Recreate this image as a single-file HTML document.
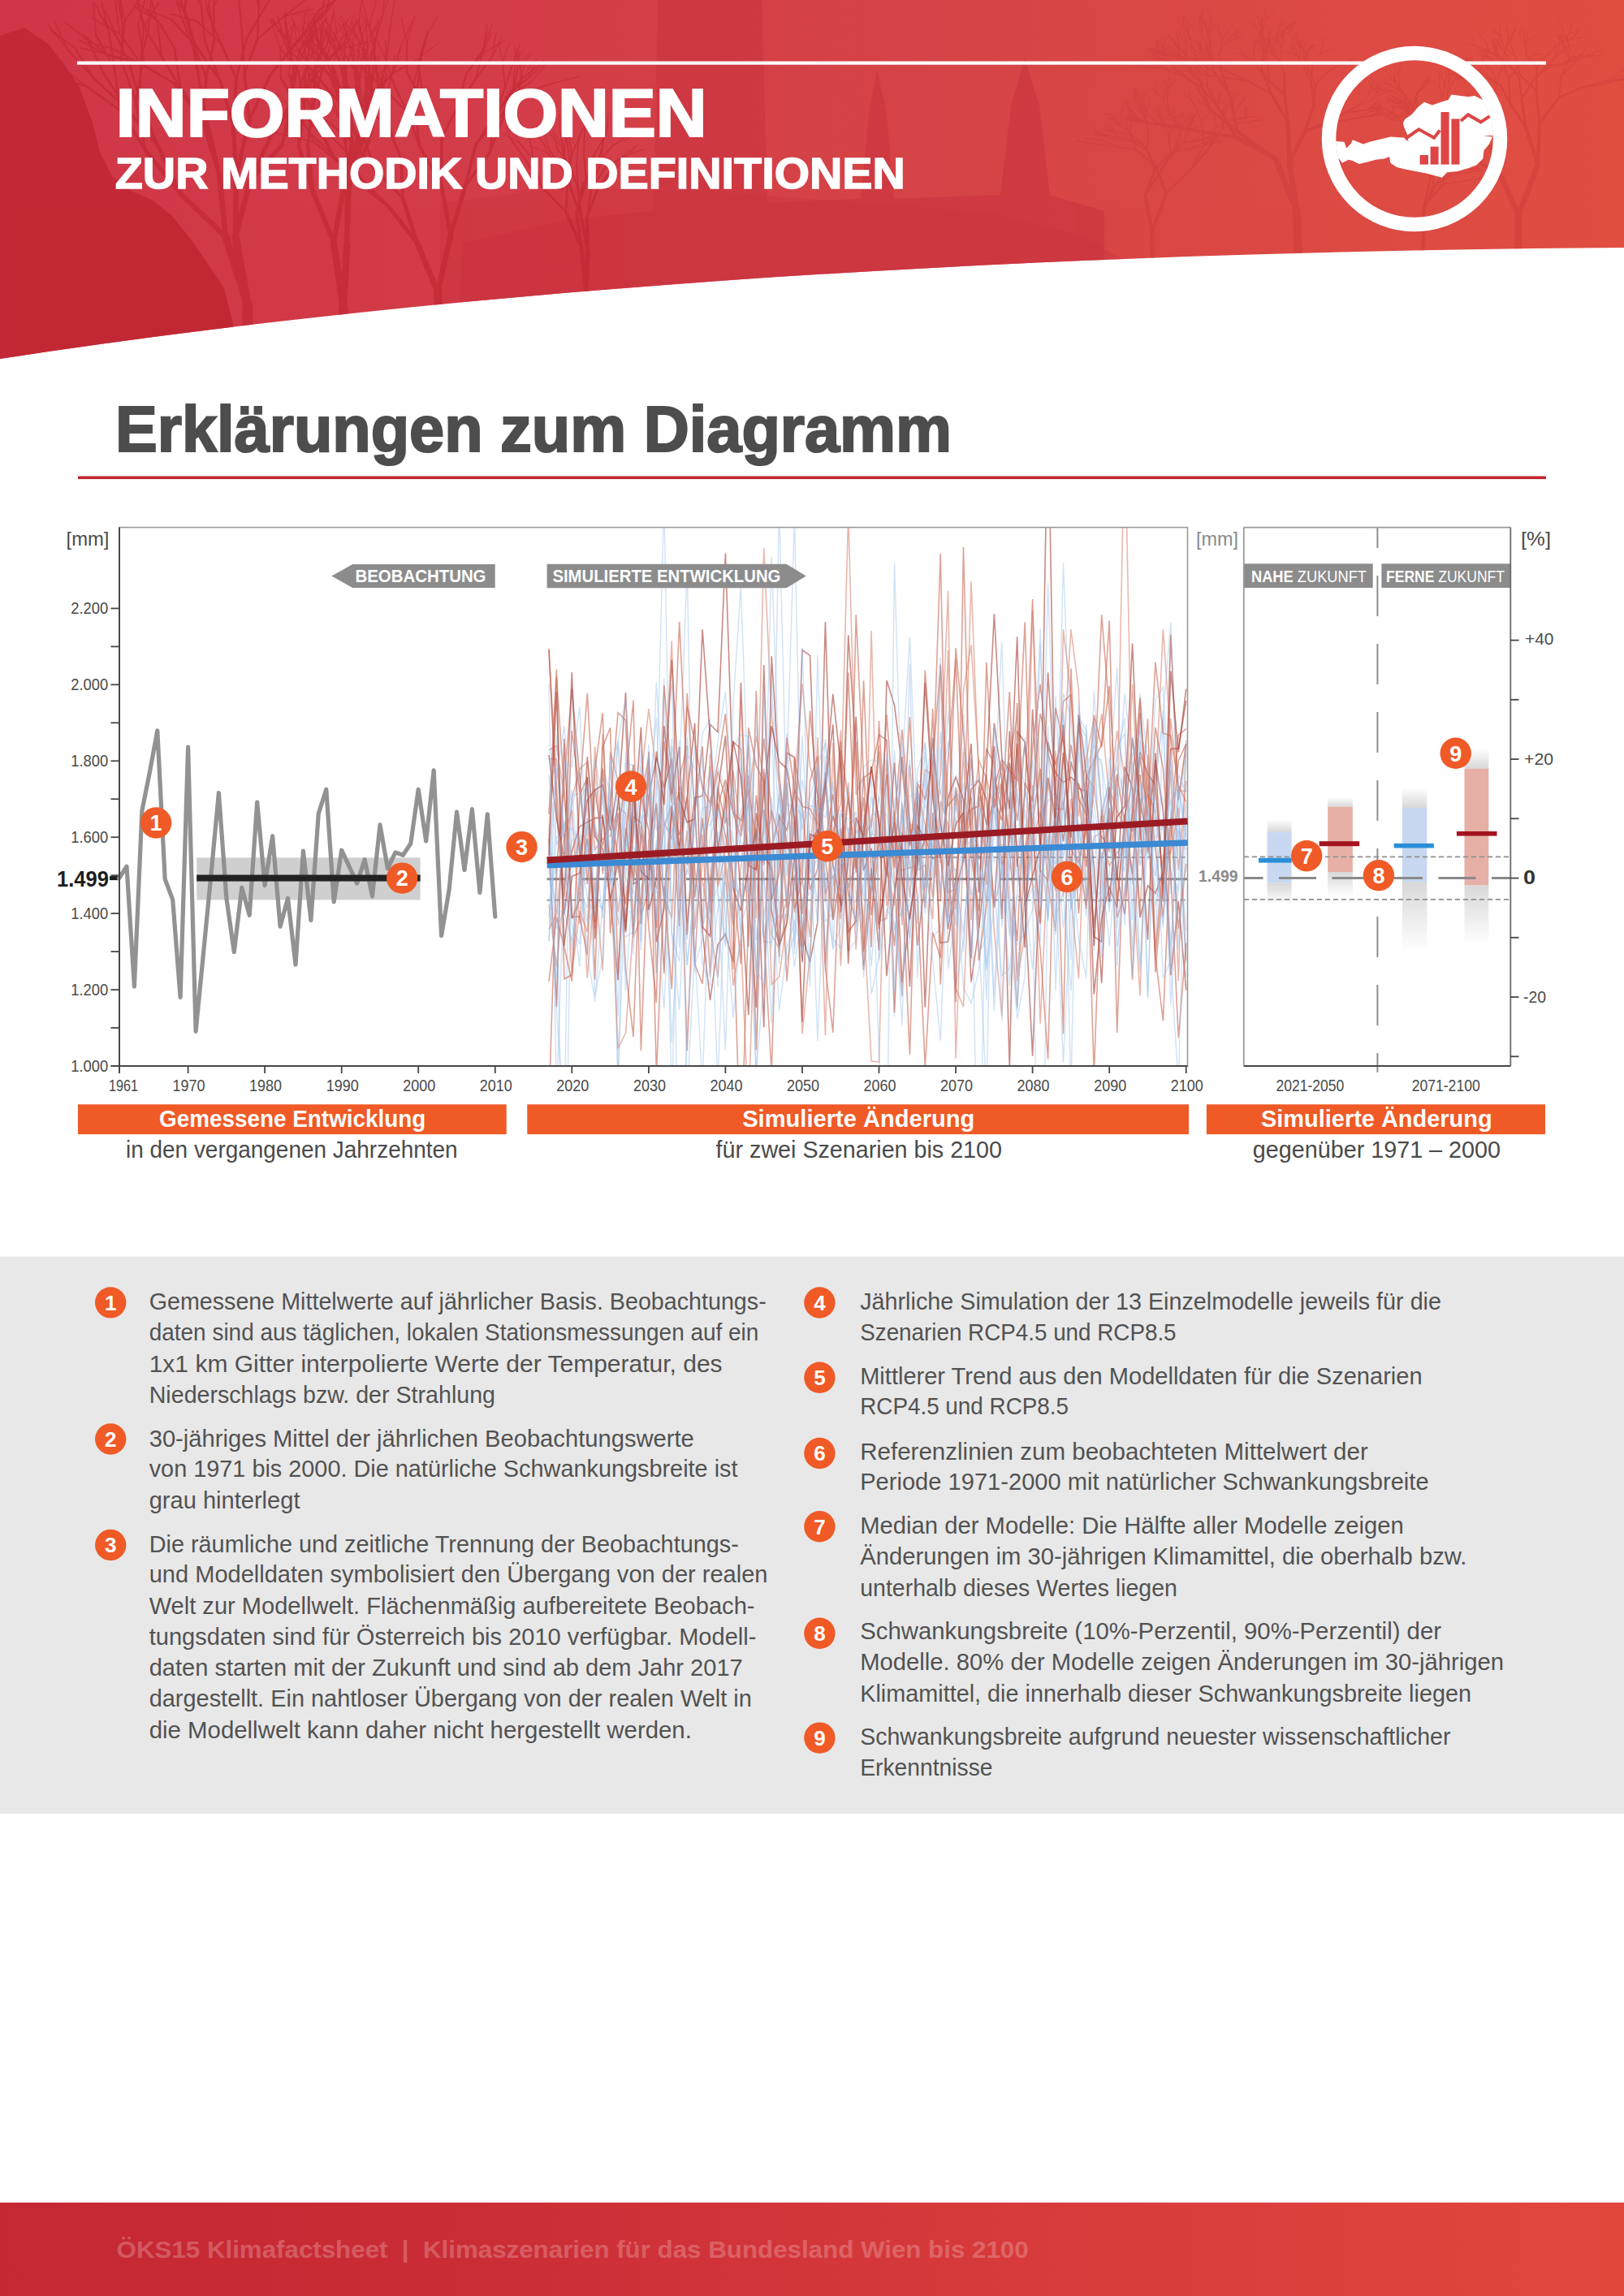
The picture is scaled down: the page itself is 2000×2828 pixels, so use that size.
<!DOCTYPE html>
<html><head><meta charset="utf-8"><title>Erklärungen zum Diagramm</title>
<style>html,body{margin:0;padding:0;background:#fff;width:2000px;height:2828px;overflow:hidden;}svg{display:block;}
text{font-family:"Liberation Sans", sans-serif;}</style></head>
<body>
<svg width="2000" height="2828" viewBox="0 0 2000 2828">
<defs>
<linearGradient id="hdrg" x1="0" y1="0" x2="1" y2="0">
<stop offset="0" stop-color="#cf3747"/>
<stop offset="0.3" stop-color="#d33c49"/>
<stop offset="0.58" stop-color="#d54446"/>
<stop offset="0.8" stop-color="#dc4a44"/>
<stop offset="1" stop-color="#e04e42"/>
</linearGradient>
<linearGradient id="ftrg" x1="0" y1="0" x2="1" y2="0">
<stop offset="0" stop-color="#c52733"/>
<stop offset="0.3" stop-color="#cb2d36"/>
<stop offset="0.55" stop-color="#d5383a"/>
<stop offset="1" stop-color="#e2463d"/>
</linearGradient>
<clipPath id="hdrclip"><path d="M0,0 H2000 V305 C1300,310 600,350 0,442 Z"/></clipPath>
<clipPath id="logoclip"><circle cx="1742" cy="171" r="97"/></clipPath>
</defs>
<g clip-path="url(#hdrclip)">
<rect x="0" y="0" width="2000" height="460" fill="url(#hdrg)"/>
<path d="M0,44 L30,34 L59,54 L79,79 L98,108 L113,148 L123,187 L138,217 L163,236 L187,246 L212,266 L236,296 L256,325 L276,355 L286,394 L300,460 L0,460 Z" fill="#c02633" opacity="0.85"/>
<path d="M810,0 L938,0 L945,250 L1060,245 L1070,140 L1080,86 L1092,140 L1101,245 L1232,240 L1245,130 L1262,72 L1280,130 L1293,240 L1360,260 L1360,460 L560,460 L570,300 L700,270 L805,260 Z" fill="#c93440" opacity="0.6"/>
<path d="M542,250 L700,230 L930,240 L1220,262 L1330,290 L1420,340 L1420,460 L542,460 Z" fill="#c83440" opacity="0.35"/>
<g stroke="#c12935" fill="none" opacity="0.7" stroke-linecap="round"><path d="M360,56L350,27M345,61L359,32M386,60L383,32M344,57L334,27M372,47L377,16M372,47L376,15M381,43L379,7M392,48L382,15M392,48L386,16M423,53L436,19M423,53L443,22M410,47L431,22M410,47L431,22M384,77L359,59M384,77L364,57M434,55L449,27M434,55L438,24M390,66L382,38M390,66L367,44M382,68L373,36M411,60L400,34M411,60L415,33M425,58L426,30M425,58L438,31M443,55L452,27M443,55L433,25M452,60L463,34M413,60L392,39M413,56L400,24M413,56L396,28M442,49L419,19M442,49L416,21M452,51L451,19M421,47L443,24M391,51L367,30M391,51L387,21M366,60L363,30M360,66L344,39M403,45L392,13M403,45L385,16M414,46L411,11M414,46L397,17M430,54L416,27M418,55L396,31M418,55L401,25M449,54L467,26M449,54L438,23M462,58L465,26M431,56L422,28M435,57L423,31M494,56L508,26M516,72L543,50M461,46L446,17M388,45L370,18M374,53L359,21M374,53L341,38M393,51L382,25M393,51L375,26M389,55L365,33M481,30L487,-6M455,32L463,1M455,32L445,-2M471,19L476,-21M471,19L485,-21M442,28L446,-5M683,102L714,94M660,83L686,75M654,93L674,78M654,93L670,74M619,77L614,51M619,77L627,53M631,80L640,55M631,80L645,61M643,92L637,69M642,91L639,63M642,91L652,67M637,88L637,61M637,88L649,67M634,85L634,58M650,97L661,72M645,95L656,75M654,101L670,82M595,65L622,50M595,61L606,30M595,61L600,30M594,66L605,41M594,66L600,39M606,70L619,45M606,70L611,40M501,52L494,22M501,52L511,20M524,48L539,19M516,73L526,51M518,66L527,41M518,66L527,37M459,79L435,59M449,87L433,60M449,87L439,59M476,76L464,49M476,76L475,50M423,119L425,90M423,119L424,93M428,117L426,89M386,136L372,114M386,136L374,111M357,168L329,161M357,168L330,161M374,150L364,127M374,150L368,128M376,139L370,114M371,140L356,113M362,137L340,114M393,125L389,96M379,129L374,103M404,124L390,101M408,118L391,94M408,118L411,89M434,123L443,101M434,123L440,98M438,121L441,92M438,121L444,94M459,100L466,74M459,100L477,81M452,100L445,75M443,100L448,74M443,100L435,72M443,101L439,74M417,113L405,90M380,136L357,122M432,119L411,101M432,119L410,112M469,100L478,76M469,100L461,77M470,95L466,69M482,94L492,73M482,94L486,68M476,91L474,66M450,97L429,80M692,182L684,164M692,182L678,166M676,184L661,167M676,184L670,162M674,188L653,180M674,188L665,168M686,183L681,162M699,179L696,156M699,179L695,157M712,178L717,157M767,192L783,180M771,193L787,177M769,192L792,184M743,175L748,153M743,175L743,150M690,163L689,140M697,163L694,140M700,165L691,147M700,165L693,144M715,165L727,146M639,175L618,164M639,175L628,154M652,169L640,149M628,170L621,142M743,176L748,153M755,179L775,165M755,179L779,168M720,158L720,130M720,158L726,132M747,165L749,141" stroke-width="1.0"/><path d="M257,5L265,-32M257,5L264,-33M263,8L278,-25M263,8L263,-25M211,24L181,12M133,67L105,46M133,67L99,59M147,41L142,2M147,41L113,22M132,68L102,42M132,68L97,49M139,60L108,52M227,16L234,-22M227,16L214,-17M228,18L230,-17M232,22L213,-5M225,25L215,-6M195,26L170,4M195,26L167,9M194,30L185,-6M180,37L171,8M144,45L129,12M144,45L122,17M183,35L186,-0M177,34L195,4M177,34L168,-3M92,59L62,36M92,59L63,38M84,62L58,29M84,62L67,26M109,51L80,27M61,94L22,84M72,80L50,52M134,39L118,6M134,39L125,3M118,43L115,3M170,30L180,-5M154,26L177,-9M154,26L146,-13M151,30L143,-10M151,30L147,-7M395,63L395,34M395,63L403,35M409,70L431,48M409,70L423,44M396,64L395,33M396,64L397,35M356,56L362,28M356,56L352,25M371,58L386,32M371,58L391,37M381,49L388,20M350,49L342,20M350,49L336,23M353,47L333,24M353,47L351,15M416,61L453,52M404,52L410,18M383,48L403,22M383,48L392,16M294,-3L309,-37M294,-3L280,-37M319,8L309,-25M319,8L317,-28M350,20L386,11M350,20L381,-4M400,18L412,-21M400,18L421,-12M395,19L403,-17M395,19L420,-10M394,11L429,-8M227,11L212,-29M227,11L231,-30M248,7L226,-26M248,7L242,-28M256,16L250,-19M242,26L210,17M328,6L351,-24M356,91L360,56M346,96L345,61M376,91L386,60M367,87L344,57M379,83L372,47M389,83L381,43M389,86L392,48M397,85L423,53M397,85L410,47M412,95L384,77M425,89L434,55M407,95L390,66M407,95L382,68M423,91L411,60M423,91L425,58M438,91L443,55M438,91L452,60M422,93L413,60M422,93L413,56M455,87L442,49M454,88L452,51M409,81L421,47M409,81L391,51M387,90L366,60M387,90L360,66M422,78L403,45M425,81L414,46M438,89L430,54M438,89L418,55M443,90L449,54M458,95L462,58M437,91L431,56M437,91L435,57M483,91L494,56M483,91L516,72M460,82L461,46M404,80L388,45M404,80L374,53M411,83L393,51M411,83L389,55M476,72L481,30M462,70L455,32M458,64L471,19M450,66L442,28M647,113L683,102M633,106L660,83M629,112L654,93M622,108L619,77M622,108L631,80M638,121L643,92M638,121L642,91M631,116L637,88M631,116L634,85M626,117L650,97M628,117L645,95M628,117L654,101M574,91L595,65M574,91L595,61M586,97L594,66M586,97L606,70M501,89L501,52M516,85L524,48M510,103L516,73M515,99L518,66M474,110L459,79M474,110L449,87M486,106L476,76M421,151L423,119M421,151L428,117M402,162L386,136M387,175L357,168M387,175L374,150M395,165L376,139M395,165L371,140M383,165L362,137M395,159L393,125M395,159L379,129M420,149L404,124M420,149L408,118M427,151L434,123M427,151L438,121M449,131L459,100M449,131L452,100M446,132L443,100M446,132L443,101M428,141L417,113M407,152L380,136M455,136L432,119M468,129L469,100M475,123L470,95M475,123L482,94M469,122L476,91M469,122L450,97M698,205L692,182M692,207L676,184M692,207L674,188M702,203L686,183M702,203L699,179M710,204L712,178M751,211L767,192M755,212L771,193M745,207L769,192M739,203L743,175M695,191L690,163M695,191L697,163M704,190L700,165M704,190L715,165M657,197L639,175M657,197L652,169M648,198L628,170M736,200L743,176M736,200L755,179M719,189L720,158M732,190L747,165" stroke-width="1.5"/><path d="M264,48L257,5M264,48L263,8M237,52L211,24M173,78L133,67M173,78L147,41M174,79L132,68M174,79L139,60M239,57L227,16M239,57L228,18M238,59L232,22M238,59L225,25M215,60L195,26M199,70L194,30M199,70L180,37M160,81L144,45M173,76L183,35M173,76L177,34M116,97L92,59M116,97L84,62M128,91L109,51M106,106L61,94M106,106L72,80M141,84L134,39M141,84L118,43M177,72L170,30M149,74L154,26M149,74L151,30M385,96L395,63M385,96L409,70M386,99L396,64M363,91L356,56M360,92L371,58M366,82L381,49M362,82L350,49M362,82L353,47M385,88L416,61M385,88L404,52M376,86L383,48M298,40L294,-3M317,48L319,8M317,48L350,20M367,49L400,18M367,51L395,19M367,51L394,11M241,56L227,11M252,50L248,7M272,53L256,16M272,53L242,26M304,47L328,6M617,143L647,113M617,143L633,106M610,141L629,112M610,141L622,108M618,149L638,121M618,149L631,116M609,146L626,117M609,146L628,117M564,130L574,91M564,130L586,97M522,127L501,89M522,127L516,85M511,138L510,103M511,138L515,99M502,139L474,110M502,139L486,106M427,187L421,151M427,187L402,162M414,198L387,175M414,198L395,165M411,192L383,165M411,192L395,159M426,186L420,149M426,186L427,151M448,169L449,131M448,169L446,132M435,176L428,141M435,176L407,152M480,158L455,136M480,158L468,129M478,158L475,123M478,158L469,122M704,235L698,205M704,235L692,207M712,233L702,203M712,233L710,204M735,235L751,211M735,235L755,212M728,233L745,207M728,233L739,203M699,222L695,191M699,222L704,190M667,230L657,197M667,230L648,198M718,226L736,200M718,226L736,200M722,224L719,189M722,224L732,190" stroke-width="2.0"/><path d="M254,95L264,48M254,95L237,52M215,103L173,78M215,103L174,79M246,103L239,57M246,103L238,59M222,108L215,60M222,108L199,70M173,127L160,81M173,127L173,76M156,134L116,97M156,134L128,91M148,136L106,106M148,136L141,84M167,124L177,72M167,124L149,74M361,131L385,96M361,131L386,99M358,132L363,91M358,132L360,92M359,126L366,82M359,126L362,82M363,128L385,88M363,128L376,86M301,91L298,40M301,91L317,48M333,92L367,49M333,92L367,51M271,99L241,56M271,99L252,50M291,97L272,53M291,97L304,47M366,131L356,91M366,131L346,96M375,131L376,91M375,131L367,87M385,128L379,83M385,128L389,83M386,129L389,86M386,129L397,85M432,130L412,95M432,130L425,89M423,132L407,95M423,132L423,91M441,130L438,91M441,130L422,93M460,132L455,87M460,132L454,88M416,124L409,81M416,124L387,90M427,123L422,78M427,123L425,81M440,133L438,89M440,133L443,90M444,133L458,95M444,133L437,91M455,122L483,91M455,122L460,82M423,122L404,80M423,122L411,83M467,118L476,72M467,118L462,70M451,114L458,64M451,114L450,66M586,178L617,143M586,178L610,141M603,188L618,149M603,188L609,146M544,170L564,130M544,170L522,127M517,181L511,138M517,181L502,139M447,223L427,187M447,223L414,198M442,225L411,192M442,225L426,186M462,209L448,169M462,209L435,176M494,196L480,158M494,196L478,158M716,268L704,235M716,268L712,233M723,268L735,235M723,268L728,233M697,261L699,222M697,261L667,230M710,262L718,226M710,262L722,224" stroke-width="2.5"/><path d="M368,180L366,131M368,180L375,131M379,178L385,128M379,178L386,129M433,177L432,130M433,177L423,132M445,179L441,130M445,179L460,132M434,174L416,124M434,174L427,123M443,181L440,133M443,181L444,133M440,171L455,122M440,171L423,122M455,172L467,118M455,172L451,114" stroke-width="3.0"/><path d="M250,150L254,95M250,150L215,103M256,154L246,103M256,154L222,108M194,179L173,127M194,179L156,134M179,185L148,136M179,185L167,124M347,179L361,131M347,179L358,132M333,169L359,126M333,169L363,128M307,148L301,91M307,148L333,92M287,154L271,99M287,154L291,97M573,229L586,178M573,229L603,188M543,226L544,170M543,226L517,181M480,256L447,223M480,256L442,225M496,244L462,209M496,244L494,196M724,309L716,268M724,309L723,268M716,305L697,261M716,305L710,262" stroke-width="3.5"/><path d="M385,235L368,180M385,235L379,178M423,233L433,177M423,233L445,179M428,234L434,174M428,234L443,181M430,230L440,171M430,230L455,172" stroke-width="4.5"/><path d="M270,215L250,150M270,215L256,154M222,238L194,179M222,238L179,185M308,223L347,179M308,223L333,169M291,216L307,148M291,216L287,154M555,290L573,229M555,290L543,226M514,300L480,256M514,300L496,244M722,360L724,309M722,360L716,305" stroke-width="5.0"/><path d="M411,299L385,235M411,299L423,233M427,301L428,234M427,301L430,230" stroke-width="6.0"/><path d="M278,292L270,215M278,292L222,238M290,292L308,223M290,292L291,216" stroke-width="6.5"/><path d="M539,360L555,290M539,360L514,300M720,420L722,360" stroke-width="7.0"/><path d="M423,380L411,299M423,380L427,301" stroke-width="8.5"/><path d="M305,375L278,292M305,375L290,292" stroke-width="9.5"/><path d="M545,440L539,360" stroke-width="10.0"/><path d="M424,470L423,380" stroke-width="12.0"/><path d="M305,470L305,375" stroke-width="13.0"/></g>
<g stroke="#c93939" fill="none" opacity="0.4" stroke-linecap="round"><path d="M1427,152L1411,139M1411,139L1405,125M1405,125L1408,114M1411,139L1408,123M1408,123L1412,113M1408,123L1398,115M1427,152L1408,139M1408,139L1399,122M1399,122L1397,108M1399,122L1396,107M1408,139L1404,123M1404,123L1400,111M1404,123L1393,116M1440,139L1437,120M1437,120L1442,106M1442,106L1447,96M1442,106L1439,96M1437,120L1438,107M1438,107L1432,99M1438,107L1435,98M1440,139L1433,124M1433,124L1425,114M1425,114L1418,108M1425,114L1423,103M1433,124L1434,113M1434,113L1440,106M1429,153L1410,150M1410,150L1397,143M1397,143L1392,134M1410,150L1398,145M1398,145L1388,141M1398,145L1393,136M1429,153L1411,150M1411,150L1398,141M1398,141L1389,135M1398,141L1391,132M1411,150L1395,148M1395,148L1385,146M1430,155L1412,152M1412,152L1399,150M1399,150L1390,148M1399,150L1390,143M1412,152L1400,149M1400,149L1391,148M1430,155L1414,150M1414,150L1402,148M1402,148L1394,143M1414,150L1400,148M1400,148L1389,146M1400,148L1388,146M1487,86L1481,71M1481,71L1477,60M1477,60L1477,50M1481,71L1472,63M1472,63L1465,57M1487,86L1488,71M1488,71L1489,61M1489,61L1493,54M1489,61L1490,53M1488,71L1481,63M1481,63L1476,56M1481,63L1478,54M1469,95L1466,79M1466,79L1460,70M1460,70L1462,61M1466,79L1456,70M1456,70L1450,61M1456,70L1448,66M1469,95L1459,82M1459,82L1448,78M1448,78L1438,77M1448,78L1439,77M1459,82L1460,68M1460,68L1453,60M1475,79L1458,64M1458,64L1446,53M1446,53L1439,44M1458,64L1448,52M1448,52L1440,44M1475,79L1469,58M1469,58L1456,49M1456,49L1452,38M1469,58L1464,43M1464,43L1459,33M1464,43L1461,33M1459,94L1452,76M1452,76L1452,61M1452,61L1445,53M1452,61L1445,50M1452,76L1443,64M1443,64L1434,58M1459,94L1441,88M1441,88L1427,81M1427,81L1415,77M1427,81L1420,72M1441,88L1431,79M1431,79L1422,74M1431,79L1424,72M1460,78L1460,54M1460,54L1465,35M1465,35L1459,21M1465,35L1473,22M1460,54L1458,35M1458,35L1448,24M1458,35L1457,20M1460,78L1443,65M1443,65L1428,63M1428,63L1417,60M1443,65L1426,62M1426,62L1413,60M1426,62L1415,60M1462,82L1444,76M1444,76L1428,73M1428,73L1419,66M1444,76L1434,63M1434,63L1425,53M1462,82L1452,66M1452,66L1441,57M1441,57L1429,53M1452,66L1452,51M1452,51L1448,42M1452,51L1449,40M1448,87L1428,84M1428,84L1413,82M1413,82L1401,80M1428,84L1412,82M1412,82L1399,80M1448,87L1435,71M1435,71L1425,59M1425,59L1425,47M1435,71L1433,56M1433,56L1424,48M1433,56L1437,45M1453,88L1439,77M1439,77L1427,73M1427,73L1418,71M1427,73L1421,64M1439,77L1429,71M1429,71L1420,69M1429,71L1420,66M1453,88L1438,75M1438,75L1423,72M1423,72L1412,70M1438,75L1432,60M1432,60L1430,49M1432,60L1423,52M1501,67L1509,53M1509,53L1518,43M1518,43L1525,36M1518,43L1526,37M1509,53L1521,48M1521,48L1531,46M1521,48L1525,40M1501,67L1505,50M1505,50L1501,38M1501,38L1500,30M1501,38L1496,31M1505,50L1512,37M1512,37L1520,28M1492,68L1490,51M1490,51L1486,37M1486,37L1485,26M1486,37L1482,26M1490,51L1492,37M1492,37L1495,28M1492,68L1478,57M1478,57L1467,48M1467,48L1461,38M1478,57L1469,49M1469,49L1461,45M1471,74L1447,70M1447,70L1427,67M1427,67L1411,61M1447,70L1428,66M1428,66L1415,57M1471,74L1450,68M1450,68L1432,65M1432,65L1416,63M1450,68L1438,57M1438,57L1432,46M1487,61L1480,42M1480,42L1476,27M1476,27L1480,15M1480,42L1480,26M1480,26L1476,17M1487,61L1488,38M1488,38L1492,22M1492,22L1486,11M1488,38L1480,23M1480,23L1483,11M1561,59L1576,46M1576,46L1589,39M1589,39L1593,30M1576,46L1585,32M1585,32L1598,28M1585,32L1595,27M1561,59L1554,38M1554,38L1560,23M1560,23L1570,16M1560,23L1558,10M1554,38L1549,20M1549,20L1539,13M1556,60L1553,43M1553,43L1546,32M1546,32L1539,27M1553,43L1554,31M1554,31L1555,23M1554,31L1554,22M1556,60L1570,46M1570,46L1576,33M1576,33L1585,27M1576,33L1579,23M1570,46L1581,38M1581,38L1590,33M1581,38L1589,31M1511,96L1489,93M1489,93L1475,87M1475,87L1469,77M1475,87L1465,82M1489,93L1477,80M1477,80L1476,67M1511,96L1489,93M1489,93L1476,81M1476,81L1467,72M1476,81L1471,70M1489,93L1473,90M1473,90L1459,88M1473,90L1462,83M1511,88L1491,80M1491,80L1475,72M1475,72L1466,63M1475,72L1462,70M1491,80L1480,65M1480,65L1467,59M1480,65L1479,52M1511,88L1496,74M1496,74L1481,72M1481,72L1471,67M1496,74L1486,64M1486,64L1484,54M1486,64L1484,54M1550,85L1539,74M1539,74L1531,66M1531,66L1527,58M1539,74L1530,67M1530,67L1521,65M1550,85L1544,71M1544,71L1544,60M1544,60L1548,52M1544,71L1544,59M1544,59L1547,51M1544,59L1546,50M1561,79L1559,63M1559,63L1551,52M1551,52L1545,46M1551,52L1550,42M1559,63L1562,49M1562,49L1565,38M1562,49L1562,38M1561,79L1558,64M1558,64L1557,52M1557,52L1555,44M1558,64L1562,53M1562,53L1563,44M1562,53L1568,46M1576,75L1569,62M1569,62L1564,51M1564,51L1556,46M1569,62L1572,50M1572,50L1578,43M1576,75L1566,64M1566,64L1555,61M1555,61L1550,53M1566,64L1563,54M1563,54L1564,46M1576,75L1578,59M1578,59L1573,48M1573,48L1574,38M1578,59L1581,47M1581,47L1580,37M1581,47L1578,38M1576,75L1566,67M1566,67L1556,65M1556,65L1549,62M1566,67L1563,58M1563,58L1558,52M1673,130L1688,124M1688,124L1699,117M1699,117L1708,113M1688,124L1695,115M1695,115L1704,111M1695,115L1697,106M1673,130L1684,118M1684,118L1688,108M1688,108L1692,100M1688,108L1686,99M1684,118L1692,110M1692,110L1700,109M1692,110L1700,106M1673,137L1685,135M1685,135L1693,129M1693,129L1698,125M1693,129L1700,128M1685,135L1694,132M1694,132L1700,131M1694,132L1701,131M1673,137L1685,135M1685,135L1695,133M1695,133L1701,129M1695,133L1702,132M1685,135L1691,129M1691,129L1697,124M1673,145L1686,143M1686,143L1695,140M1695,140L1702,139M1695,140L1702,139M1686,143L1695,142M1695,142L1703,141M1695,142L1702,141M1673,145L1686,143M1686,143L1697,142M1697,142L1705,141M1686,143L1697,142M1697,142L1704,137M1697,142L1705,141M1673,145L1685,138M1685,138L1696,136M1696,136L1704,135M1685,138L1695,135M1695,135L1703,134M1695,135L1702,134M1673,145L1684,144M1684,144L1694,142M1694,142L1699,137M1684,144L1693,140M1693,140L1697,135M1693,140L1699,135M1607,84L1598,69M1598,69L1587,65M1587,65L1578,62M1598,69L1595,57M1595,57L1590,48M1607,84L1600,71M1600,71L1592,63M1592,63L1591,55M1592,63L1589,56M1600,71L1601,59M1601,59L1596,52M1601,59L1604,50M1616,82L1607,66M1607,66L1599,53M1599,53L1596,41M1607,66L1601,52M1601,52L1594,43M1601,52L1591,47M1616,82L1625,68M1625,68L1630,56M1630,56L1629,45M1625,68L1635,62M1635,62L1644,60M1635,88L1650,80M1650,80L1662,78M1662,78L1670,76M1662,78L1672,76M1650,80L1661,76M1661,76L1667,70M1635,88L1651,80M1651,80L1661,74M1661,74L1671,73M1661,74L1671,73M1651,80L1665,78M1665,78L1675,76M1665,78L1677,76M1612,87L1606,72M1606,72L1611,61M1611,61L1618,55M1611,61L1618,56M1606,72L1604,61M1604,61L1609,53M1612,87L1609,73M1609,73L1612,61M1612,61L1617,54M1612,61L1619,56M1609,73L1606,63M1606,63L1601,56M1736,126L1717,114M1717,114L1701,110M1701,110L1689,109M1701,110L1693,103M1717,114L1700,106M1700,106L1690,99M1736,126L1724,107M1724,107L1713,96M1713,96L1706,86M1724,107L1722,91M1722,91L1725,78M1722,91L1716,81M1738,129L1728,114M1728,114L1719,102M1719,102L1718,91M1719,102L1711,96M1728,114L1716,105M1716,105L1705,103M1738,129L1726,114M1726,114L1712,105M1712,105L1704,95M1712,105L1700,100M1726,114L1718,101M1718,101L1716,91M1740,134L1744,116M1744,116L1755,107M1755,107L1761,97M1755,107L1760,97M1744,116L1753,107M1753,107L1761,102M1740,134L1744,117M1744,117L1752,105M1752,105L1760,99M1744,117L1752,105M1752,105L1759,95M1752,105L1758,93M1740,136L1729,125M1729,125L1717,123M1717,123L1707,122M1717,123L1707,122M1729,125L1719,120M1719,120L1712,118M1719,120L1712,118M1740,136L1726,128M1726,128L1715,126M1715,126L1706,120M1715,126L1706,125M1726,128L1714,126M1714,126L1708,119M1745,147L1736,136M1736,136L1728,127M1728,127L1721,122M1736,136L1725,133M1725,133L1715,132M1745,147L1731,144M1731,144L1720,142M1720,142L1712,140M1720,142L1712,140M1731,144L1719,142M1719,142L1711,140M1719,142L1710,138M1754,141L1745,131M1745,131L1743,121M1743,121L1745,113M1743,121L1747,113M1745,131L1737,129M1737,129L1730,125M1754,141L1745,129M1745,129L1735,124M1735,124L1728,120M1745,129L1745,118M1745,118L1747,110M1740,148L1734,135M1734,135L1724,127M1724,127L1715,126M1724,127L1718,121M1734,135L1730,124M1730,124L1730,115M1730,124L1732,117M1740,148L1724,146M1724,146L1712,144M1712,144L1706,138M1712,144L1705,139M1724,146L1715,139M1715,139L1707,134M1715,139L1706,135M1740,153L1733,140M1733,140L1734,130M1734,130L1738,122M1733,140L1728,130M1728,130L1722,125M1728,130L1723,123M1740,153L1725,149M1725,149L1716,140M1716,140L1715,130M1725,149L1712,147M1712,147L1704,140M1817,108L1812,94M1812,94L1811,82M1811,82L1807,75M1812,94L1815,82M1815,82L1812,74M1815,82L1820,74M1817,108L1810,94M1810,94L1803,84M1803,84L1796,77M1803,84L1797,76M1810,94L1809,80M1809,80L1808,71M1809,80L1812,70M1822,107L1812,99M1812,99L1803,98M1803,98L1798,93M1812,99L1805,93M1805,93L1799,92M1805,93L1798,90M1822,107L1811,100M1811,100L1806,90M1806,90L1800,84M1811,100L1802,98M1802,98L1794,97M1802,98L1797,94M1827,103L1823,88M1823,88L1826,76M1826,76L1824,66M1826,76L1831,68M1823,88L1815,80M1815,80L1805,78M1815,80L1806,78M1827,103L1811,98M1811,98L1800,96M1800,96L1792,95M1800,96L1793,91M1811,98L1799,93M1799,93L1788,91M1844,104L1840,92M1840,92L1833,85M1833,85L1828,79M1833,85L1829,78M1840,92L1835,83M1835,83L1832,76M1844,104L1847,90M1847,90L1854,81M1854,81L1857,73M1847,90L1850,80M1850,80L1850,72M1782,117L1784,102M1784,102L1788,92M1788,92L1794,86M1788,92L1792,85M1784,102L1784,91M1784,91L1786,82M1784,91L1783,83M1782,117L1788,103M1788,103L1797,94M1797,94L1807,90M1797,94L1804,87M1788,103L1796,92M1796,92L1803,86M1796,92L1801,84M1776,122L1773,108M1773,108L1765,101M1765,101L1755,100M1773,108L1772,96M1772,96L1773,88M1772,96L1777,89M1776,122L1779,108M1779,108L1781,96M1781,96L1780,87M1781,96L1788,89M1779,108L1777,97M1777,97L1771,89M1777,97L1772,90M1759,151L1746,147M1746,147L1735,145M1735,145L1726,143M1746,147L1734,145M1734,145L1724,143M1734,145L1726,139M1759,151L1745,149M1745,149L1734,147M1734,147L1726,142M1745,149L1737,141M1737,141L1729,138M1760,144L1744,135M1744,135L1733,129M1733,129L1725,122M1733,129L1725,123M1744,135L1731,133M1731,133L1720,131M1731,133L1722,131M1760,144L1744,142M1744,142L1732,137M1732,137L1728,130M1732,137L1725,133M1744,142L1737,133M1737,133L1735,124M1866,70L1852,57M1852,57L1847,43M1847,43L1839,36M1847,43L1848,30M1852,57L1847,44M1847,44L1838,38M1866,70L1860,54M1860,54L1863,42M1863,42L1868,33M1860,54L1858,41M1858,41L1851,34M1857,80L1843,77M1843,77L1832,70M1832,70L1827,61M1832,70L1828,61M1843,77L1834,72M1834,72L1826,71M1857,80L1844,72M1844,72L1840,61M1840,61L1837,52M1844,72L1833,70M1833,70L1824,69M1833,70L1825,66M1880,68L1879,54M1879,54L1881,45M1881,45L1880,38M1879,54L1885,47M1885,47L1892,44M1880,68L1878,53M1878,53L1872,43M1872,43L1872,35M1872,43L1867,38M1878,53L1877,42M1877,42L1875,34M1908,65L1921,52M1921,52L1936,48M1936,48L1942,39M1936,48L1943,40M1921,52L1936,48M1936,48L1949,46M1908,65L1923,52M1923,52L1925,36M1925,36L1919,24M1923,52L1934,41M1934,41L1935,29M1934,41L1945,37M1937,80L1950,71M1950,71L1963,69M1963,69L1973,68M1950,71L1962,66M1962,66L1968,58M1962,66L1971,62M1937,80L1946,70M1946,70L1954,68M1954,68L1961,67M1954,68L1962,67M1946,70L1951,62M1951,62L1955,55M1932,74L1933,59M1933,59L1930,47M1930,47L1932,39M1930,47L1923,42M1933,59L1930,50M1930,50L1925,45M1930,50L1927,42M1932,74L1928,60M1928,60L1924,49M1924,49L1916,44M1928,60L1921,50M1921,50L1921,41M1921,50L1917,41M1972,101L1990,98M1990,98L2004,96M2004,96L2015,94M2004,96L2015,94M1990,98L2002,96M2002,96L2009,90M2002,96L2012,95M1972,101L1989,95M1989,95L2002,93M2002,93L2012,91M2002,93L2011,87M1989,95L1997,87M1997,87L2005,85M1997,87L2004,81M1973,104L1992,99M1992,99L2005,98M2005,98L2016,96M2005,98L2014,92M1992,99L2006,97M2006,97L2016,96M1973,104L1991,98M1991,98L2004,96M2004,96L2012,91M1991,98L2003,96M2003,96L2014,95M1858,78L1844,68M1844,68L1831,63M1831,63L1821,62M1844,68L1841,56M1841,56L1835,47M1858,78L1844,69M1844,69L1840,57M1840,57L1841,47M1844,69L1832,64M1832,64L1822,62M1859,81L1848,71M1848,71L1838,66M1838,66L1832,60M1848,71L1843,59M1843,59L1839,50M1843,59L1844,49M1859,81L1855,67M1855,67L1847,57M1847,57L1843,50M1855,67L1848,57M1848,57L1845,48M1905,81L1924,78M1924,78L1937,76M1937,76L1947,72M1924,78L1937,70M1937,70L1942,58M1937,70L1950,69M1905,81L1918,70M1918,70L1920,56M1920,56L1922,44M1918,70L1927,59M1927,59L1939,55M1907,83L1916,67M1916,67L1927,63M1927,63L1936,62M1916,67L1914,52M1914,52L1905,44M1907,83L1926,79M1926,79L1940,73M1940,73L1948,66M1926,79L1938,71M1938,71L1949,68M1938,71L1948,69M1870,81L1882,71M1882,71L1891,63M1891,63L1897,56M1882,71L1892,67M1892,67L1898,61M1870,81L1884,75M1884,75L1892,68M1892,68L1900,66M1884,75L1895,73M1895,73L1903,72M1850,74L1856,56M1856,56L1857,42M1857,42L1856,32M1856,56L1862,42M1862,42L1867,31M1850,74L1834,62M1834,62L1818,57M1818,57L1806,54M1818,57L1812,45M1834,62L1829,50M1829,50L1822,43M1833,97L1820,91M1820,91L1815,82M1815,82L1813,74M1820,91L1814,80M1814,80L1810,71M1814,80L1813,70M1833,97L1821,93M1821,93L1813,87M1813,87L1806,83M1821,93L1810,92M1810,92L1802,91M1810,92L1803,89M1832,93L1819,88M1819,88L1808,85M1808,85L1803,78M1819,88L1813,79M1813,79L1805,77M1813,79L1810,72M1832,93L1816,89M1816,89L1804,88M1804,88L1795,86M1804,88L1795,86M1816,89L1807,79M1807,79L1806,70M1506,158L1506,137M1506,137L1510,120M1510,120L1521,110M1506,137L1516,123M1516,123L1527,115M1506,158L1525,152M1525,152L1534,142M1534,142L1534,132M1534,142L1536,132M1525,152L1540,150M1540,150L1551,147M1540,150L1553,148M1498,157L1517,148M1517,148L1534,145M1534,145L1547,143M1517,148L1532,145M1532,145L1541,137M1498,157L1496,139M1496,139L1501,126M1501,126L1503,115M1501,126L1501,115M1496,139L1484,129M1484,129L1474,124M1484,129L1475,123M1505,160L1519,143M1519,143L1527,129M1527,129L1536,119M1519,143L1527,128M1527,128L1534,118M1505,160L1508,139M1508,139L1518,128M1518,128L1519,116M1508,139L1515,125M1515,125L1516,113M1480,153L1474,134M1474,134L1466,122M1466,122L1456,114M1474,134L1466,121M1466,121L1465,111M1480,153L1490,137M1490,137L1501,126M1501,126L1503,115M1501,126L1513,125M1490,137L1490,121M1490,121L1495,110M1395,167L1379,163M1379,163L1368,161M1368,161L1360,156M1379,163L1366,161M1366,161L1357,159M1395,167L1383,157M1383,157L1374,149M1374,149L1366,145M1374,149L1366,146M1383,157L1375,149M1375,149L1367,145M1375,149L1369,142M1388,171L1371,168M1371,168L1359,166M1359,166L1350,165M1359,166L1351,162M1371,168L1358,166M1358,166L1348,164M1358,166L1349,160M1388,171L1372,168M1372,168L1360,167M1360,167L1351,165M1372,168L1360,166M1360,166L1352,165M1376,181L1355,178M1355,178L1338,176M1338,176L1326,173M1338,176L1326,174M1355,178L1340,176M1340,176L1328,174M1340,176L1333,167M1376,181L1360,174M1360,174L1346,171M1346,171L1336,170M1360,174L1350,164M1350,164L1347,155M1392,163L1381,149M1381,149L1369,142M1369,142L1360,140M1369,142L1359,141M1381,149L1381,134M1381,134L1388,123M1392,163L1394,147M1394,147L1391,135M1391,135L1388,126M1394,147L1390,136M1390,136L1393,128M1390,136L1389,127M1456,175L1465,162M1465,162L1469,148M1469,148L1473,139M1469,148L1467,138M1465,162L1467,148M1467,148L1468,138M1467,148L1474,139M1456,175L1471,173M1471,173L1484,171M1484,171L1494,169M1471,173L1481,165M1481,165L1490,164M1439,169L1433,153M1433,153L1428,140M1428,140L1422,131M1428,140L1420,135M1433,153L1426,140M1426,140L1428,129M1439,169L1445,155M1445,155L1454,148M1454,148L1462,141M1445,155L1447,145M1447,145L1453,141M1447,145L1443,138M1450,170L1452,157M1452,157L1459,150M1459,150L1464,143M1452,157L1459,149M1459,149L1465,144M1450,170L1459,160M1459,160L1465,151M1465,151L1467,144M1459,160L1469,158M1469,158L1476,157M1459,176L1472,174M1472,174L1483,172M1483,172L1492,171M1483,172L1489,169M1472,174L1481,173M1481,173L1486,169M1459,176L1462,160M1462,160L1468,148M1468,148L1472,140M1462,160L1461,147M1461,147L1455,141M1461,147L1465,138M1454,171L1456,155M1456,155L1450,145M1450,145L1446,136M1456,155L1465,147M1465,147L1473,144M1465,147L1472,140M1454,171L1451,156M1451,156L1443,147M1443,147L1434,146M1443,147L1438,139M1451,156L1454,144M1454,144L1459,138M1454,144L1457,136M1464,183L1479,177M1479,177L1488,168M1488,168L1497,166M1488,168L1493,159M1479,177L1491,174M1491,174L1496,167M1464,183L1481,180M1481,180L1493,174M1493,174L1504,172M1493,174L1499,165M1481,180L1495,176M1495,176L1505,175M1395,175L1381,173M1381,173L1374,164M1374,164L1369,157M1374,164L1368,157M1381,173L1371,171M1371,171L1362,169M1395,175L1390,161M1390,161L1388,150M1388,150L1384,144M1390,161L1379,155M1379,155L1374,149M1379,155L1371,152M1414,163L1410,146M1410,146L1406,134M1406,134L1399,125M1410,146L1407,134M1407,134L1401,126M1414,163L1411,147M1411,147L1404,138M1404,138L1397,131M1404,138L1401,130M1411,147L1412,135M1412,135L1416,126M1760,198L1751,180M1751,180L1750,164M1750,164L1754,153M1750,164L1745,153M1751,180L1753,164M1753,164L1753,153M1760,198L1755,181M1755,181L1753,168M1753,168L1752,158M1753,168L1746,161M1755,181L1750,168M1750,168L1752,157M1750,168L1747,159M1767,200L1776,185M1776,185L1787,176M1787,176L1798,174M1776,185L1786,177M1786,177L1791,168M1767,200L1763,183M1763,183L1760,171M1760,171L1762,163M1763,183L1760,172M1760,172L1751,166M1760,172L1759,164M1777,199L1782,180M1782,180L1783,166M1783,166L1782,154M1783,166L1778,156M1782,180L1783,165M1783,165L1776,156M1783,165L1785,154M1777,199L1780,177M1780,177L1785,159M1785,159L1794,147M1785,159L1792,147M1780,177L1784,162M1784,162L1792,153M1784,162L1790,152M1804,223L1822,220M1822,220L1835,213M1835,213L1843,208M1835,213L1841,205M1822,220L1837,218M1837,218L1848,216M1804,223L1826,219M1826,219L1843,215M1843,215L1851,206M1826,219L1840,212M1840,212L1852,207M1765,215L1770,199M1770,199L1777,191M1777,191L1783,185M1770,199L1775,188M1775,188L1779,181M1765,215L1769,200M1769,200L1777,193M1777,193L1782,187M1769,200L1773,190M1773,190L1779,184M1773,190L1770,182M1774,217L1784,205M1784,205L1791,194M1791,194L1790,185M1784,205L1796,201M1796,201L1807,199M1796,201L1806,196M1774,217L1777,204M1777,204L1780,194M1780,194L1779,186M1777,204L1776,195M1776,195L1779,188M1781,217L1798,214M1798,214L1813,212M1813,212L1820,205M1798,214L1812,212M1812,212L1823,210M1812,212L1822,209M1781,217L1786,201M1786,201L1794,193M1794,193L1803,190M1786,201L1795,195M1795,195L1801,190M1795,195L1803,193M1783,218L1794,205M1794,205L1799,191M1799,191L1800,182M1794,205L1800,190M1800,190L1809,182M1800,190L1800,177M1783,218L1800,210M1800,210L1813,208M1813,208L1823,203M1800,210L1813,208M1813,208L1823,207" stroke-width="1.0"/><path d="M1453,156L1427,152M1453,156L1440,139M1453,158L1429,153M1453,158L1430,155M1487,107L1487,86M1487,107L1469,95M1479,107L1475,79M1479,107L1459,94M1478,100L1460,78M1478,100L1462,82M1472,104L1448,87M1472,104L1453,88M1505,90L1501,67M1505,90L1492,68M1496,89L1471,74M1496,89L1487,61M1553,85L1561,59M1553,85L1556,60M1537,100L1511,96M1537,100L1511,88M1563,100L1550,85M1563,100L1561,79M1582,92L1576,75M1582,92L1576,75M1656,139L1673,130M1656,139L1673,137M1656,148L1673,145M1656,148L1673,145M1615,104L1607,84M1615,104L1616,82M1620,104L1635,88M1620,104L1612,87M1749,150L1736,126M1749,150L1738,129M1747,156L1740,134M1747,156L1740,136M1761,157L1745,147M1761,157L1754,141M1758,159L1740,148M1758,159L1740,153M1831,121L1817,108M1831,121L1822,107M1838,119L1827,103M1838,119L1844,104M1786,138L1782,117M1786,138L1776,122M1778,154L1759,151M1778,154L1760,144M1872,92L1866,70M1872,92L1857,80M1893,83L1880,68M1893,83L1908,65M1923,93L1937,80M1923,93L1932,74M1948,108L1972,101M1948,108L1973,104M1871,96L1858,78M1871,96L1859,81M1889,98L1905,81M1889,98L1907,83M1858,98L1870,81M1858,98L1850,74M1848,105L1833,97M1848,105L1832,93M1490,181L1506,158M1490,181L1498,157M1483,178L1505,160M1483,178L1480,153M1409,179L1395,167M1409,179L1388,171M1400,185L1376,181M1400,185L1392,163M1442,189L1456,175M1442,189L1439,169M1445,189L1450,170M1445,189L1459,176M1443,188L1454,171M1443,188L1464,183M1413,185L1395,175M1413,185L1414,163M1761,222L1760,198M1761,222L1767,200M1777,227L1777,199M1777,227L1804,223M1765,234L1765,215M1765,234L1774,217M1764,232L1781,217M1764,232L1783,218" stroke-width="1.5"/><path d="M1772,174L1749,150M1772,174L1747,156M1779,172L1761,157M1779,172L1758,159M1838,143L1831,121M1838,143L1838,119M1804,158L1786,138M1804,158L1778,154M1892,112L1872,92M1892,112L1893,83M1920,120L1923,93M1920,120L1948,108M1874,122L1871,96M1874,122L1889,98M1860,128L1858,98M1860,128L1848,105M1467,208L1490,181M1467,208L1483,178M1423,204L1409,179M1423,204L1400,185M1429,211L1442,189M1429,211L1445,189M1422,209L1443,188M1422,209L1413,185" stroke-width="2.0"/><path d="M1485,163L1453,156M1485,163L1453,158M1501,133L1487,107M1501,133L1479,107M1490,135L1478,100M1490,135L1472,104M1515,119L1505,90M1515,119L1496,89M1566,116L1553,85M1566,116L1537,100M1582,117L1563,100M1582,117L1582,92M1635,151L1656,139M1635,151L1656,148M1618,130L1615,104M1618,130L1620,104M1754,253L1761,222M1754,253L1777,227M1753,258L1765,234M1753,258L1764,232" stroke-width="2.5"/><path d="M1806,192L1772,174M1806,192L1779,172M1833,175L1838,143M1833,175L1804,158M1896,152L1892,112M1896,152L1920,120M1879,157L1874,122M1879,157L1860,128M1436,238L1467,208M1436,238L1423,204M1410,241L1429,211M1410,241L1422,209" stroke-width="3.0"/><path d="M1522,169L1485,163M1522,169L1501,133M1524,162L1490,135M1524,162L1515,119M1586,151L1566,116M1586,151L1582,117M1607,162L1635,151M1607,162L1618,130M1753,295L1754,253M1753,295L1753,258" stroke-width="3.5"/><path d="M1419,285L1436,238M1419,285L1410,241" stroke-width="4.0"/><path d="M1847,214L1806,192M1847,214L1833,175M1894,203L1896,152M1894,203L1879,157" stroke-width="4.5"/><path d="M1571,196L1522,169M1571,196L1524,162M1588,200L1586,151M1588,200L1607,162M1750,345L1753,295" stroke-width="5.0"/><path d="M1420,345L1419,285" stroke-width="6.0"/><path d="M1870,265L1847,214M1870,265L1894,203" stroke-width="6.5"/><path d="M1597,260L1571,196M1597,260L1588,200" stroke-width="7.0"/><path d="M1870,345L1870,265" stroke-width="9.0"/><path d="M1600,345L1597,260" stroke-width="10.0"/></g>
</g>
<rect x="95" y="75.5" width="1585" height="4.2" fill="#fff"/>
<rect x="1804" y="75.5" width="100" height="4.2" fill="#fff"/>
<circle cx="1742" cy="171" r="105.5" fill="none" stroke="#fff" stroke-width="17.5"/>
<g clip-path="url(#logoclip)">
<path d="M1640.0,173.5 L1655.5,174.8 L1658.1,182.6 L1663.3,177.4 L1665.9,172.2 L1678.8,177.4 L1686.6,174.8 L1702.1,171.0 L1712.4,168.4 L1720.2,169.0 L1730.5,169.7 L1734.4,174.8 L1733.1,165.8 L1729.2,156.7 L1727.9,151.6 L1730.5,146.4 L1738.3,141.2 L1746.0,132.2 L1753.8,125.7 L1764.1,129.6 L1774.5,125.7 L1783.5,123.1 L1787.4,116.6 L1808.1,119.2 L1815.9,117.9 L1826.2,123.1 L1859.8,123.1 L1859.8,167.1 L1826.2,167.1 L1837.9,168.4 L1834.0,177.4 L1827.5,185.2 L1826.2,195.5 L1818.5,203.3 L1808.1,207.2 L1795.2,211.0 L1782.2,212.3 L1775.8,218.8 L1766.7,216.2 L1756.4,213.6 L1743.5,211.0 L1730.5,208.5 L1720.2,205.9 L1712.4,200.7 L1711.1,192.9 L1704.7,195.5 L1694.3,196.8 L1684.0,199.4 L1673.6,202.0 L1665.9,198.1 L1660.7,196.8 L1652.9,200.7 L1649.1,195.5 L1640.0,195.5 Z" fill="#fff"/>
<rect x="1748.6" y="191.0" width="10.4" height="11.6" fill="#dd4645"/>
<rect x="1761.6" y="180.6" width="10.0" height="22.0" fill="#dd4645"/>
<rect x="1774.5" y="138.0" width="10.1" height="64.6" fill="#dd4645"/>
<rect x="1787.4" y="146.4" width="10.1" height="56.2" fill="#dd4645"/>
<polyline points="1730.5,171 1747.3,159.3 1766.1,169.7 1773.2,160.6" fill="none" stroke="#dd4645" stroke-width="4"/>
<polyline points="1799,149 1808,141.2 1823.6,150.3 1834.6,143.1" fill="none" stroke="#dd4645" stroke-width="4"/>
</g>
<text x="142.7" y="167.7" font-size="84.30" font-weight="bold" fill="#fff" text-anchor="start" textLength="728.0" lengthAdjust="spacingAndGlyphs" stroke="#fff" stroke-width="2.2">INFORMATIONEN</text>
<text x="141.8" y="231.8" font-size="53.80" font-weight="bold" fill="#fff" text-anchor="start" textLength="973.0" lengthAdjust="spacingAndGlyphs" stroke="#fff" stroke-width="1.4">ZUR METHODIK UND DEFINITIONEN</text>
<text x="142.0" y="556.2" font-size="80.00" font-weight="bold" fill="#4d4d4d" text-anchor="start" textLength="1030.0" lengthAdjust="spacingAndGlyphs" stroke="#4d4d4d" stroke-width="2.2">Erklärungen zum Diagramm</text>
<rect x="96" y="586.5" width="1808" height="3.6" fill="#c4232f"/>
<rect x="147" y="649.6" width="1315.5" height="663.4" fill="none" stroke="#9a9a9a" stroke-width="1.6"/>
<line x1="136.5" y1="1313.0" x2="147" y2="1313.0" stroke="#474747" stroke-width="1.8"/>
<line x1="136.5" y1="1266.0" x2="147" y2="1266.0" stroke="#474747" stroke-width="1.8"/>
<line x1="136.5" y1="1219.1" x2="147" y2="1219.1" stroke="#474747" stroke-width="1.8"/>
<line x1="136.5" y1="1172.1" x2="147" y2="1172.1" stroke="#474747" stroke-width="1.8"/>
<line x1="136.5" y1="1125.1" x2="147" y2="1125.1" stroke="#474747" stroke-width="1.8"/>
<line x1="136.5" y1="1078.2" x2="147" y2="1078.2" stroke="#474747" stroke-width="1.8"/>
<line x1="136.5" y1="1031.2" x2="147" y2="1031.2" stroke="#474747" stroke-width="1.8"/>
<line x1="136.5" y1="984.2" x2="147" y2="984.2" stroke="#474747" stroke-width="1.8"/>
<line x1="136.5" y1="937.3" x2="147" y2="937.3" stroke="#474747" stroke-width="1.8"/>
<line x1="136.5" y1="890.3" x2="147" y2="890.3" stroke="#474747" stroke-width="1.8"/>
<line x1="136.5" y1="843.3" x2="147" y2="843.3" stroke="#474747" stroke-width="1.8"/>
<line x1="136.5" y1="796.4" x2="147" y2="796.4" stroke="#474747" stroke-width="1.8"/>
<line x1="136.5" y1="749.4" x2="147" y2="749.4" stroke="#474747" stroke-width="1.8"/>
<text x="133.3" y="756.0" font-size="19.80" font-weight="normal" fill="#4a4a4a" text-anchor="end" textLength="46.0" lengthAdjust="spacingAndGlyphs">2.200</text>
<text x="133.3" y="849.9" font-size="19.80" font-weight="normal" fill="#4a4a4a" text-anchor="end" textLength="46.0" lengthAdjust="spacingAndGlyphs">2.000</text>
<text x="133.3" y="943.9" font-size="19.80" font-weight="normal" fill="#4a4a4a" text-anchor="end" textLength="46.0" lengthAdjust="spacingAndGlyphs">1.800</text>
<text x="133.3" y="1037.8" font-size="19.80" font-weight="normal" fill="#4a4a4a" text-anchor="end" textLength="46.0" lengthAdjust="spacingAndGlyphs">1.600</text>
<text x="133.3" y="1131.7" font-size="19.80" font-weight="normal" fill="#4a4a4a" text-anchor="end" textLength="46.0" lengthAdjust="spacingAndGlyphs">1.400</text>
<text x="133.3" y="1225.7" font-size="19.80" font-weight="normal" fill="#4a4a4a" text-anchor="end" textLength="46.0" lengthAdjust="spacingAndGlyphs">1.200</text>
<text x="133.3" y="1319.6" font-size="19.80" font-weight="normal" fill="#4a4a4a" text-anchor="end" textLength="46.0" lengthAdjust="spacingAndGlyphs">1.000</text>
<line x1="135" y1="1081.6" x2="147" y2="1081.6" stroke="#1e1e1e" stroke-width="5"/>
<text x="70.0" y="1091.6" font-size="27.50" font-weight="bold" fill="#1e1e1e" text-anchor="start" textLength="64.0" lengthAdjust="spacingAndGlyphs">1.499</text>
<rect x="242.2" y="1056.4" width="275.4" height="52" fill="#cfcfcf"/>
<polyline points="146.5,1082.0 156.0,1067.2 165.4,1215.2 174.9,998.4 184.3,951.4 193.8,900.0 203.2,1082.9 212.7,1108.1 222.1,1228.3 231.6,920.0 241.1,1270.3 250.5,1174.3 260.0,1076.8 269.4,976.7 278.9,1106.4 288.3,1172.6 297.8,1093.3 307.2,1127.3 316.7,988.0 326.1,1090.7 335.6,1029.8 345.1,1141.2 354.5,1106.4 364.0,1188.2 373.4,1048.0 382.9,1133.5 392.3,1002.0 401.8,972.3 411.2,1110.8 420.7,1047.2 430.1,1067.3 439.6,1088.2 449.1,1058.6 458.5,1103.9 468.0,1015.9 477.4,1069.9 486.9,1049.9 496.3,1053.3 505.8,1039.0 515.2,972.3 524.7,1036.0 534.2,948.8 543.6,1152.6 553.1,1096.0 562.5,1000.2 572.0,1071.6 581.4,996.7 590.9,1099.5 600.3,1002.8 609.8,1129.1" fill="none" stroke="#8c8c8c" stroke-width="5.2" stroke-linejoin="round" stroke-linecap="round" opacity="0.95"/>
<line x1="242.2" y1="1081.6" x2="517.6" y2="1081.6" stroke="#222" stroke-width="8"/>
<line x1="673.6" y1="1082.8" x2="1462" y2="1082.8" stroke="#8a8a8a" stroke-width="3" stroke-dasharray="45 19.5" stroke-dashoffset="22"/>
<line x1="673.6" y1="1055.9" x2="1462" y2="1055.9" stroke="#8f8f8f" stroke-width="1.6" stroke-dasharray="6 4"/>
<line x1="673.6" y1="1108.6" x2="1462" y2="1108.6" stroke="#8f8f8f" stroke-width="1.6" stroke-dasharray="6 4"/>
<clipPath id="midclip"><rect x="147" y="650" width="1315.5" height="663"/></clipPath>
<g clip-path="url(#midclip)" fill="none" stroke-linejoin="miter">
<polyline points="676.0,1033.9 685.4,1240.4 694.9,910.0 704.3,1131.6 713.8,1108.7 723.3,932.4 732.7,1030.1 742.2,1045.4 751.6,1108.1 761.1,1207.3 770.5,1031.2 780.0,941.8 789.4,1138.2 798.9,926.0 808.4,1160.3 817.8,1119.7 827.3,999.7 836.7,1043.7 846.2,982.4 855.6,890.7 865.1,1147.3 874.5,1232.0 884.0,1163.8 893.4,1150.2 902.9,1185.5 912.4,840.8 921.8,1106.6 931.3,1241.1 940.7,819.2 950.2,1122.4 959.6,1164.7 969.1,927.0 978.5,933.0 988.0,1152.5 997.5,1184.8 1006.9,1136.0 1016.4,766.0 1025.8,1064.6 1035.3,1114.8 1044.7,782.3 1054.2,925.3 1063.6,1172.4 1073.1,1069.3 1082.5,1170.7 1092.0,837.9 1101.5,868.5 1110.9,944.3 1120.4,1041.1 1129.8,968.9 1139.3,1240.8 1148.7,1001.5 1158.2,1161.6 1167.6,1159.9 1177.1,1096.1 1186.5,1059.4 1196.0,972.6 1205.5,960.9 1214.9,984.9 1224.4,1117.8 1233.8,961.5 1243.3,1032.7 1252.7,916.0 1262.2,1112.9 1271.6,1300.6 1281.1,1066.9 1290.6,828.4 1300.0,975.9 1309.5,1036.4 1318.9,938.3 1328.4,971.2 1337.8,974.4 1347.3,1066.8 1356.7,1210.7 1366.2,995.7 1375.7,1078.4 1385.1,1126.4 1394.6,999.5 1404.0,926.0 1413.5,953.7 1422.9,966.6 1432.4,1089.7 1441.8,781.6 1451.3,985.6 1460.7,916.2" stroke="rgba(165,60,50,0.6)" stroke-width="1.6"/>
<polyline points="676.0,1114.0 685.4,1190.3 694.9,1096.4 704.3,983.4 713.8,947.3 723.3,938.3 732.7,1046.5 742.2,1033.5 751.6,1029.5 761.1,995.1 770.5,1001.2 780.0,1154.5 789.4,1130.2 798.9,1093.1 808.4,988.4 817.8,1104.9 827.3,1131.2 836.7,958.4 846.2,918.4 855.6,1143.9 865.1,1063.1 874.5,944.1 884.0,1089.3 893.4,964.2 902.9,1194.0 912.4,1068.9 921.8,986.0 931.3,907.0 940.7,958.6 950.2,1212.5 959.6,1203.2 969.1,1133.4 978.5,967.6 988.0,842.4 997.5,943.5 1006.9,978.4 1016.4,1100.0 1025.8,1079.2 1035.3,1132.1 1044.7,963.7 1054.2,1169.6 1063.6,1031.7 1073.1,1014.8 1082.5,925.8 1092.0,1115.8 1101.5,999.4 1110.9,1139.4 1120.4,942.1 1129.8,1071.9 1139.3,1065.6 1148.7,1132.1 1158.2,817.8 1167.6,1099.4 1177.1,1094.9 1186.5,926.4 1196.0,1133.0 1205.5,1007.5 1214.9,953.7 1224.4,1146.5 1233.8,1251.5 1243.3,984.9 1252.7,1198.5 1262.2,1107.2 1271.6,1036.1 1281.1,1000.3 1290.6,1052.7 1300.0,1097.3 1309.5,934.3 1318.9,775.3 1328.4,850.0 1337.8,1115.7 1347.3,1030.9 1356.7,1025.4 1366.2,971.6 1375.7,998.6 1385.1,1016.6 1394.6,842.9 1404.0,1034.5 1413.5,977.5 1422.9,999.5 1432.4,1079.4 1441.8,948.8 1451.3,1208.2 1460.7,911.9" stroke="rgba(215,125,105,0.55)" stroke-width="1.6"/>
<polyline points="676.0,924.0 685.4,918.6 694.9,980.3 704.3,1068.6 713.8,1034.3 723.3,1204.7 732.7,1083.6 742.2,1195.2 751.6,925.9 761.1,961.4 770.5,1135.9 780.0,997.0 789.4,961.3 798.9,873.2 808.4,952.2 817.8,1013.2 827.3,1033.0 836.7,968.4 846.2,996.0 855.6,1070.5 865.1,1145.2 874.5,928.7 884.0,1093.5 893.4,1047.3 902.9,949.4 912.4,1024.4 921.8,919.1 931.3,1131.5 940.7,950.5 950.2,1151.4 959.6,1168.4 969.1,1121.3 978.5,1004.7 988.0,1082.9 997.5,1153.8 1006.9,908.3 1016.4,1110.4 1025.8,1023.8 1035.3,989.5 1044.7,631.8 1054.2,979.0 1063.6,956.0 1073.1,1019.9 1082.5,918.0 1092.0,1068.6 1101.5,1115.4 1110.9,989.6 1120.4,1105.1 1129.8,973.4 1139.3,1016.1 1148.7,1052.8 1158.2,954.1 1167.6,727.7 1177.1,1304.2 1186.5,1035.6 1196.0,715.7 1205.5,959.3 1214.9,1056.9 1224.4,1117.5 1233.8,1071.3 1243.3,940.3 1252.7,1208.4 1262.2,1151.4 1271.6,967.2 1281.1,1260.7 1290.6,1058.0 1300.0,924.8 1309.5,1104.3 1318.9,983.6 1328.4,1085.4 1337.8,957.7 1347.3,937.2 1356.7,879.4 1366.2,986.5 1375.7,900.4 1385.1,956.9 1394.6,1039.6 1404.0,861.7 1413.5,1051.3 1422.9,975.0 1432.4,774.7 1441.8,912.6 1451.3,1071.9 1460.7,961.9" stroke="rgba(215,125,105,0.55)" stroke-width="1.6"/>
<polyline points="676.0,1111.2 685.4,1062.0 694.9,1616.6 704.3,994.2 713.8,951.6 723.3,1053.5 732.7,990.9 742.2,949.4 751.6,999.9 761.1,913.8 770.5,1081.7 780.0,1100.1 789.4,923.3 798.9,1110.2 808.4,1035.3 817.8,1197.5 827.3,919.2 836.7,954.9 846.2,697.2 855.6,1197.7 865.1,995.3 874.5,993.3 884.0,913.5 893.4,852.1 902.9,995.6 912.4,1038.3 921.8,1040.0 931.3,1046.3 940.7,1156.0 950.2,1107.1 959.6,1023.4 969.1,1183.5 978.5,1149.1 988.0,905.5 997.5,1082.5 1006.9,942.1 1016.4,915.3 1025.8,1011.7 1035.3,938.5 1044.7,1030.0 1054.2,1101.1 1063.6,1135.8 1073.1,1004.6 1082.5,999.6 1092.0,1003.7 1101.5,1050.0 1110.9,915.1 1120.4,1029.0 1129.8,1050.9 1139.3,926.0 1148.7,1110.1 1158.2,1007.8 1167.6,876.4 1177.1,1001.0 1186.5,880.4 1196.0,1031.8 1205.5,1057.3 1214.9,1021.1 1224.4,1061.6 1233.8,1040.4 1243.3,1048.4 1252.7,932.6 1262.2,967.7 1271.6,1023.7 1281.1,1078.6 1290.6,718.2 1300.0,1021.6 1309.5,877.2 1318.9,1121.2 1328.4,1075.8 1337.8,891.8 1347.3,1112.0 1356.7,1108.7 1366.2,1004.5 1375.7,1073.2 1385.1,1028.1 1394.6,984.7 1404.0,985.0 1413.5,981.4 1422.9,971.3 1432.4,879.9 1441.8,767.1 1451.3,1031.9 1460.7,1185.3" stroke="rgba(150,190,235,0.45)" stroke-width="1.4"/>
<polyline points="676.0,1046.1 685.4,1242.5 694.9,1384.4 704.3,846.7 713.8,976.6 723.3,1055.2 732.7,1226.4 742.2,1178.9 751.6,929.1 761.1,1332.5 770.5,1080.9 780.0,971.0 789.4,1034.5 798.9,1133.9 808.4,1059.9 817.8,835.5 827.3,1150.7 836.7,1184.5 846.2,1021.0 855.6,919.1 865.1,1050.2 874.5,951.9 884.0,1098.0 893.4,1164.5 902.9,920.0 912.4,904.9 921.8,907.7 931.3,1087.0 940.7,1159.8 950.2,1160.9 959.6,1064.2 969.1,989.7 978.5,995.8 988.0,1186.6 997.5,1022.8 1006.9,1282.2 1016.4,1031.4 1025.8,1041.4 1035.3,1059.3 1044.7,986.1 1054.2,1026.9 1063.6,1017.9 1073.1,1107.8 1082.5,1002.2 1092.0,1049.1 1101.5,1252.2 1110.9,993.5 1120.4,1062.7 1129.8,1138.0 1139.3,968.4 1148.7,1044.5 1158.2,1015.8 1167.6,1035.3 1177.1,1079.4 1186.5,1216.4 1196.0,1235.6 1205.5,1193.9 1214.9,1067.3 1224.4,974.7 1233.8,998.4 1243.3,981.6 1252.7,963.5 1262.2,919.7 1271.6,1004.4 1281.1,774.4 1290.6,1133.3 1300.0,857.2 1309.5,1066.1 1318.9,1084.5 1328.4,883.4 1337.8,899.9 1347.3,1100.4 1356.7,1100.1 1366.2,963.5 1375.7,979.1 1385.1,854.4 1394.6,935.9 1404.0,1005.8 1413.5,1059.3 1422.9,1006.4 1432.4,1042.9 1441.8,1163.9 1451.3,1023.6 1460.7,1041.9" stroke="rgba(150,190,235,0.45)" stroke-width="1.4"/>
<polyline points="676.0,799.0 685.4,995.0 694.9,1125.3 704.3,1048.5 713.8,1018.1 723.3,1012.6 732.7,1007.9 742.2,1006.7 751.6,1059.7 761.1,988.4 770.5,853.1 780.0,1088.8 789.4,1082.2 798.9,981.0 808.4,933.4 817.8,970.5 827.3,934.9 836.7,1045.8 846.2,1063.7 855.6,982.6 865.1,980.4 874.5,892.3 884.0,901.7 893.4,681.2 902.9,969.1 912.4,1104.6 921.8,1250.3 931.3,1001.5 940.7,1052.2 950.2,1070.0 959.6,1164.7 969.1,1136.9 978.5,1055.0 988.0,1184.8 997.5,1043.4 1006.9,1022.1 1016.4,1046.9 1025.8,1004.9 1035.3,1037.4 1044.7,1148.1 1054.2,1134.5 1063.6,1017.4 1073.1,944.0 1082.5,1015.0 1092.0,1078.6 1101.5,1012.6 1110.9,1210.5 1120.4,1127.2 1129.8,1064.0 1139.3,1031.6 1148.7,1057.7 1158.2,1051.7 1167.6,1144.4 1177.1,1081.5 1186.5,1001.0 1196.0,1209.5 1205.5,1143.9 1214.9,1056.7 1224.4,890.7 1233.8,960.9 1243.3,1317.2 1252.7,901.4 1262.2,913.9 1271.6,1025.2 1281.1,1137.0 1290.6,913.9 1300.0,952.5 1309.5,964.0 1318.9,957.2 1328.4,965.6 1337.8,995.9 1347.3,1224.7 1356.7,1130.7 1366.2,1092.7 1375.7,1118.3 1385.1,1011.2 1394.6,909.1 1404.0,989.3 1413.5,1030.6 1422.9,936.1 1432.4,998.9 1441.8,1201.2 1451.3,1109.8 1460.7,1219.5" stroke="rgba(165,60,50,0.6)" stroke-width="1.6"/>
<polyline points="676.0,1159.5 685.4,995.1 694.9,1127.0 704.3,1084.6 713.8,988.4 723.3,963.2 732.7,1112.3 742.2,1119.0 751.6,970.1 761.1,1342.1 770.5,939.4 780.0,943.1 789.4,1160.1 798.9,951.1 808.4,1022.1 817.8,1013.6 827.3,1283.6 836.7,1101.3 846.2,1071.2 855.6,1092.5 865.1,1090.1 874.5,1079.6 884.0,1336.7 893.4,1070.4 902.9,1119.4 912.4,1088.0 921.8,1099.2 931.3,1049.7 940.7,1024.8 950.2,896.0 959.6,1130.6 969.1,902.8 978.5,1072.0 988.0,1136.8 997.5,1191.8 1006.9,972.7 1016.4,1198.0 1025.8,967.9 1035.3,1016.3 1044.7,1102.5 1054.2,1112.0 1063.6,1003.4 1073.1,1031.7 1082.5,980.7 1092.0,1044.5 1101.5,1095.2 1110.9,997.4 1120.4,1163.0 1129.8,970.2 1139.3,1038.1 1148.7,1154.1 1158.2,1143.8 1167.6,1074.3 1177.1,1223.3 1186.5,921.2 1196.0,957.5 1205.5,1150.0 1214.9,1351.5 1224.4,893.6 1233.8,1004.9 1243.3,1141.0 1252.7,1255.0 1262.2,1203.0 1271.6,935.4 1281.1,1010.7 1290.6,986.7 1300.0,976.2 1309.5,1073.6 1318.9,1103.8 1328.4,1088.9 1337.8,1082.8 1347.3,890.9 1356.7,1130.6 1366.2,1075.7 1375.7,919.1 1385.1,903.8 1394.6,1132.9 1404.0,854.3 1413.5,937.7 1422.9,1182.8 1432.4,875.7 1441.8,1181.5 1451.3,972.9 1460.7,1032.7" stroke="rgba(150,190,235,0.45)" stroke-width="1.4"/>
<polyline points="676.0,1131.0 685.4,1030.5 694.9,1028.6 704.3,1140.7 713.8,1163.1 723.3,1030.3 732.7,1117.5 742.2,945.7 751.6,977.3 761.1,1076.8 770.5,966.5 780.0,1175.1 789.4,965.8 798.9,1124.6 808.4,982.7 817.8,615.2 827.3,1148.4 836.7,1243.4 846.2,1044.9 855.6,1004.5 865.1,902.9 874.5,886.3 884.0,1049.6 893.4,1166.7 902.9,869.1 912.4,720.5 921.8,995.0 931.3,1344.7 940.7,850.1 950.2,1117.0 959.6,622.3 969.1,1016.7 978.5,1167.4 988.0,961.1 997.5,1005.1 1006.9,1015.7 1016.4,1104.4 1025.8,1167.0 1035.3,1011.4 1044.7,969.2 1054.2,1031.0 1063.6,1064.1 1073.1,1097.7 1082.5,977.7 1092.0,910.4 1101.5,1058.1 1110.9,1131.7 1120.4,817.5 1129.8,1205.0 1139.3,1017.6 1148.7,1051.3 1158.2,921.2 1167.6,1054.3 1177.1,1214.7 1186.5,1158.8 1196.0,1029.4 1205.5,1041.1 1214.9,1108.1 1224.4,1097.0 1233.8,1202.1 1243.3,1193.3 1252.7,1103.2 1262.2,1109.2 1271.6,1051.1 1281.1,1159.9 1290.6,893.9 1300.0,1219.6 1309.5,956.1 1318.9,1343.3 1328.4,890.1 1337.8,907.7 1347.3,1170.9 1356.7,1000.0 1366.2,962.5 1375.7,945.6 1385.1,983.9 1394.6,1089.3 1404.0,912.6 1413.5,1040.8 1422.9,1079.1 1432.4,1011.4 1441.8,1073.8 1451.3,1096.7 1460.7,1015.9" stroke="rgba(150,190,235,0.45)" stroke-width="1.4"/>
<polyline points="676.0,934.8 685.4,934.9 694.9,1031.1 704.3,997.8 713.8,1137.8 723.3,1008.0 732.7,1143.4 742.2,904.3 751.6,1070.6 761.1,1291.3 770.5,1272.4 780.0,1140.7 789.4,1026.4 798.9,1061.6 808.4,1095.0 817.8,1016.4 827.3,993.0 836.7,978.5 846.2,1135.1 855.6,1050.2 865.1,1085.8 874.5,1140.8 884.0,1203.4 893.4,1060.2 902.9,1138.7 912.4,859.4 921.8,1058.7 931.3,1071.0 940.7,675.0 950.2,881.7 959.6,970.2 969.1,1062.3 978.5,1123.9 988.0,1057.5 997.5,1047.9 1006.9,946.8 1016.4,1187.6 1025.8,1044.8 1035.3,899.6 1044.7,1093.6 1054.2,1059.1 1063.6,1131.0 1073.1,1307.0 1082.5,1308.2 1092.0,935.2 1101.5,1086.0 1110.9,1226.1 1120.4,1013.6 1129.8,1029.5 1139.3,947.9 1148.7,955.3 1158.2,1062.6 1167.6,801.1 1177.1,1217.5 1186.5,1240.0 1196.0,1016.3 1205.5,936.6 1214.9,959.3 1224.4,995.3 1233.8,965.3 1243.3,1119.4 1252.7,1240.4 1262.2,1042.6 1271.6,1014.8 1281.1,1138.8 1290.6,964.6 1300.0,1018.1 1309.5,986.3 1318.9,1104.4 1328.4,1205.3 1337.8,956.1 1347.3,970.2 1356.7,1034.9 1366.2,1066.1 1375.7,1050.9 1385.1,1036.0 1394.6,1073.4 1404.0,1226.1 1413.5,951.2 1422.9,1172.4 1432.4,1053.3 1441.8,1050.1 1451.3,995.0 1460.7,1182.3" stroke="rgba(215,125,105,0.55)" stroke-width="1.6"/>
<polyline points="676.0,801.6 685.4,968.2 694.9,1104.7 704.3,900.0 713.8,976.0 723.3,853.7 732.7,1023.6 742.2,1060.5 751.6,996.9 761.1,1055.8 770.5,1113.7 780.0,1005.8 789.4,1013.3 798.9,1072.4 808.4,1044.7 817.8,1104.3 827.3,991.7 836.7,1141.0 846.2,854.0 855.6,1000.1 865.1,919.2 874.5,1124.4 884.0,970.9 893.4,1014.2 902.9,913.5 912.4,922.7 921.8,1166.3 931.3,850.7 940.7,1150.4 950.2,1320.9 959.6,1002.2 969.1,1118.6 978.5,933.5 988.0,991.8 997.5,1096.0 1006.9,1069.7 1016.4,951.5 1025.8,1133.2 1035.3,1080.6 1044.7,828.5 1054.2,1070.0 1063.6,958.2 1073.1,950.9 1082.5,905.0 1092.0,911.6 1101.5,1247.0 1110.9,1037.8 1120.4,883.0 1129.8,1068.0 1139.3,825.5 1148.7,963.9 1158.2,1110.4 1167.6,934.8 1177.1,812.3 1186.5,1052.4 1196.0,933.8 1205.5,1058.3 1214.9,1041.9 1224.4,971.3 1233.8,935.5 1243.3,949.1 1252.7,961.1 1262.2,766.2 1271.6,1089.7 1281.1,1169.0 1290.6,1304.8 1300.0,960.4 1309.5,1273.3 1318.9,823.2 1328.4,1047.3 1337.8,1119.5 1347.3,936.9 1356.7,916.8 1366.2,764.4 1375.7,1130.2 1385.1,1102.9 1394.6,999.6 1404.0,878.1 1413.5,977.9 1422.9,1042.6 1432.4,1129.4 1441.8,1014.6 1451.3,905.3 1460.7,897.6" stroke="rgba(200,100,80,0.6)" stroke-width="1.6"/>
<polyline points="676.0,1209.2 685.4,1129.4 694.9,1166.7 704.3,1208.8 713.8,979.5 723.3,957.8 732.7,1206.7 742.2,920.2 751.6,896.3 761.1,1199.4 770.5,1019.9 780.0,1085.0 789.4,982.6 798.9,932.9 808.4,1323.8 817.8,1092.0 827.3,1218.1 836.7,975.1 846.2,1294.4 855.6,1057.3 865.1,1052.0 874.5,997.9 884.0,950.1 893.4,983.1 902.9,1128.4 912.4,1437.8 921.8,1125.7 931.3,979.7 940.7,1065.0 950.2,998.3 959.6,1034.2 969.1,1208.5 978.5,1077.7 988.0,1166.7 997.5,962.0 1006.9,931.2 1016.4,1190.7 1025.8,1271.8 1035.3,1020.6 1044.7,1099.7 1054.2,1136.0 1063.6,838.4 1073.1,1082.2 1082.5,1144.3 1092.0,1067.0 1101.5,1012.6 1110.9,898.5 1120.4,1009.8 1129.8,1164.4 1139.3,1086.0 1148.7,872.9 1158.2,1212.6 1167.6,1039.1 1177.1,1234.2 1186.5,673.7 1196.0,1054.3 1205.5,1122.3 1214.9,1017.1 1224.4,984.4 1233.8,1010.4 1243.3,939.1 1252.7,1010.9 1262.2,914.2 1271.6,1015.1 1281.1,946.7 1290.6,1059.6 1300.0,872.0 1309.5,914.4 1318.9,963.6 1328.4,1125.1 1337.8,1006.6 1347.3,1323.3 1356.7,1059.3 1366.2,1007.2 1375.7,1109.7 1385.1,1006.4 1394.6,961.2 1404.0,859.6 1413.5,1017.2 1422.9,1178.2 1432.4,1257.5 1441.8,1033.6 1451.3,936.9 1460.7,916.7" stroke="rgba(200,100,80,0.6)" stroke-width="1.6"/>
<polyline points="676.0,1015.7 685.4,1143.9 694.9,1122.2 704.3,980.9 713.8,976.5 723.3,1030.0 732.7,953.5 742.2,1073.9 751.6,1055.8 761.1,1002.3 770.5,1047.1 780.0,973.4 789.4,1170.7 798.9,917.1 808.4,1122.0 817.8,1242.5 827.3,1038.5 836.7,988.5 846.2,928.9 855.6,946.4 865.1,967.0 874.5,1198.8 884.0,1119.5 893.4,1086.5 902.9,1134.4 912.4,939.9 921.8,1022.1 931.3,1040.6 940.7,994.8 950.2,1134.5 959.6,1129.7 969.1,1126.7 978.5,992.6 988.0,1006.0 997.5,984.9 1006.9,940.6 1016.4,1173.6 1025.8,1092.0 1035.3,1021.5 1044.7,1171.7 1054.2,1157.8 1063.6,944.3 1073.1,936.1 1082.5,938.1 1092.0,1028.7 1101.5,1053.8 1110.9,936.9 1120.4,1069.6 1129.8,1001.5 1139.3,914.3 1148.7,1068.1 1158.2,1092.5 1167.6,1030.9 1177.1,976.9 1186.5,986.8 1196.0,1015.2 1205.5,979.7 1214.9,1191.5 1224.4,1115.6 1233.8,1013.3 1243.3,1122.0 1252.7,1163.8 1262.2,1149.9 1271.6,1120.0 1281.1,1044.2 1290.6,1130.0 1300.0,1004.7 1309.5,875.8 1318.9,1039.8 1328.4,912.2 1337.8,998.7 1347.3,1138.0 1356.7,1049.6 1366.2,1123.2 1375.7,955.2 1385.1,1140.1 1394.6,905.7 1404.0,970.9 1413.5,1227.7 1422.9,952.1 1432.4,884.2 1441.8,1101.1 1451.3,974.7 1460.7,1203.3" stroke="rgba(150,190,235,0.45)" stroke-width="1.4"/>
<polyline points="676.0,1362.1 685.4,1067.6 694.9,962.3 704.3,848.7 713.8,955.6 723.3,1089.0 732.7,971.7 742.2,1042.3 751.6,991.7 761.1,877.7 770.5,887.3 780.0,1150.0 789.4,977.7 798.9,1023.1 808.4,1142.6 817.8,913.0 827.3,989.2 836.7,765.9 846.2,965.8 855.6,1187.3 865.1,1211.7 874.5,1087.4 884.0,993.4 893.4,960.1 902.9,1000.9 912.4,1010.9 921.8,973.0 931.3,1035.4 940.7,909.7 950.2,999.7 959.6,1178.8 969.1,964.1 978.5,1119.0 988.0,1082.9 997.5,875.5 1006.9,980.0 1016.4,1037.8 1025.8,978.4 1035.3,1057.0 1044.7,982.8 1054.2,1074.7 1063.6,982.0 1073.1,1166.6 1082.5,888.0 1092.0,1056.9 1101.5,1165.4 1110.9,1026.4 1120.4,1040.8 1129.8,989.0 1139.3,1118.7 1148.7,966.4 1158.2,682.0 1167.6,1130.7 1177.1,970.0 1186.5,1030.9 1196.0,981.7 1205.5,1182.9 1214.9,1115.0 1224.4,956.6 1233.8,1000.4 1243.3,852.0 1252.7,1067.3 1262.2,979.5 1271.6,738.0 1281.1,1071.9 1290.6,1085.4 1300.0,996.3 1309.5,996.7 1318.9,917.3 1328.4,979.7 1337.8,1067.7 1347.3,971.4 1356.7,757.2 1366.2,877.0 1375.7,1272.1 1385.1,1002.3 1394.6,1076.5 1404.0,932.0 1413.5,1003.9 1422.9,815.6 1432.4,903.2 1441.8,906.2 1451.3,967.6 1460.7,987.6" stroke="rgba(200,100,80,0.6)" stroke-width="1.6"/>
<polyline points="676.0,929.8 685.4,1008.3 694.9,1056.9 704.3,828.0 713.8,1057.4 723.3,985.3 732.7,973.0 742.2,967.1 751.6,1022.9 761.1,965.7 770.5,1146.0 780.0,1026.6 789.4,895.7 798.9,1120.6 808.4,1082.7 817.8,894.1 827.3,978.6 836.7,919.6 846.2,1151.6 855.6,999.8 865.1,1141.6 874.5,1152.9 884.0,974.8 893.4,906.3 902.9,1094.3 912.4,1121.9 921.8,1068.0 931.3,1020.8 940.7,1265.5 950.2,808.3 959.6,955.1 969.1,1042.7 978.5,1058.5 988.0,800.5 997.5,807.4 1006.9,1054.0 1016.4,973.4 1025.8,892.4 1035.3,1123.7 1044.7,1062.2 1054.2,882.9 1063.6,1072.2 1073.1,1044.9 1082.5,1138.1 1092.0,1077.7 1101.5,939.2 1110.9,1083.2 1120.4,1132.3 1129.8,1062.5 1139.3,841.4 1148.7,981.9 1158.2,1054.3 1167.6,983.1 1177.1,957.0 1186.5,985.0 1196.0,1180.3 1205.5,968.4 1214.9,1016.0 1224.4,919.3 1233.8,1132.0 1243.3,900.2 1252.7,1056.2 1262.2,1167.1 1271.6,873.8 1281.1,1043.9 1290.6,957.6 1300.0,1006.7 1309.5,892.9 1318.9,1080.2 1328.4,890.0 1337.8,996.9 1347.3,1153.6 1356.7,1160.0 1366.2,969.1 1375.7,1084.3 1385.1,944.5 1394.6,970.6 1404.0,1130.2 1413.5,1090.9 1422.9,1100.4 1432.4,1074.6 1441.8,922.6 1451.3,921.8 1460.7,862.9" stroke="rgba(165,60,50,0.6)" stroke-width="1.6"/>
<polyline points="676.0,1003.3 685.4,824.6 694.9,1205.8 704.3,1200.7 713.8,1080.0 723.3,1033.4 732.7,1136.2 742.2,946.7 751.6,1080.0 761.1,1001.4 770.5,1193.8 780.0,1277.2 789.4,1017.0 798.9,1141.6 808.4,1235.1 817.8,844.1 827.3,957.3 836.7,1050.4 846.2,870.4 855.6,912.5 865.1,970.2 874.5,989.2 884.0,940.0 893.4,879.4 902.9,1001.3 912.4,1030.4 921.8,955.2 931.3,1292.9 940.7,997.5 950.2,1046.2 959.6,1005.9 969.1,1022.4 978.5,973.4 988.0,993.3 997.5,996.0 1006.9,1015.0 1016.4,960.9 1025.8,1052.1 1035.3,913.4 1044.7,1170.9 1054.2,757.1 1063.6,958.4 1073.1,1127.3 1082.5,1041.0 1092.0,880.1 1101.5,1009.4 1110.9,1085.5 1120.4,1299.0 1129.8,964.4 1139.3,984.8 1148.7,939.6 1158.2,819.5 1167.6,992.6 1177.1,979.9 1186.5,1061.1 1196.0,996.8 1205.5,993.0 1214.9,923.0 1224.4,940.2 1233.8,1066.3 1243.3,1036.3 1252.7,866.0 1262.2,1084.7 1271.6,920.5 1281.1,842.8 1290.6,927.6 1300.0,962.3 1309.5,864.0 1318.9,855.6 1328.4,983.9 1337.8,1003.1 1347.3,880.8 1356.7,920.2 1366.2,844.9 1375.7,1014.5 1385.1,1011.6 1394.6,1023.6 1404.0,954.0 1413.5,1048.7 1422.9,896.1 1432.4,947.2 1441.8,1076.6 1451.3,1278.3 1460.7,1161.7" stroke="rgba(200,100,80,0.6)" stroke-width="1.6"/>
<polyline points="676.0,1144.7 685.4,1126.0 694.9,1026.6 704.3,1200.1 713.8,1122.2 723.3,1147.6 732.7,919.6 742.2,1076.6 751.6,1003.6 761.1,1123.4 770.5,1048.3 780.0,1055.8 789.4,1115.1 798.9,951.4 808.4,1197.7 817.8,971.2 827.3,789.2 836.7,1109.4 846.2,1023.2 855.6,1185.2 865.1,1027.7 874.5,1203.1 884.0,968.6 893.4,1073.8 902.9,1214.0 912.4,1156.6 921.8,1379.4 931.3,1051.5 940.7,946.8 950.2,1062.8 959.6,1143.5 969.1,1107.8 978.5,1011.6 988.0,1273.5 997.5,1175.3 1006.9,985.2 1016.4,1275.2 1025.8,915.0 1035.3,1189.8 1044.7,1042.0 1054.2,914.5 1063.6,1189.3 1073.1,776.9 1082.5,1135.0 1092.0,1130.9 1101.5,1032.3 1110.9,1072.2 1120.4,1068.8 1129.8,1066.9 1139.3,1035.3 1148.7,1104.8 1158.2,986.5 1167.6,1015.6 1177.1,1120.2 1186.5,850.5 1196.0,794.4 1205.5,947.1 1214.9,1089.6 1224.4,979.5 1233.8,964.3 1243.3,933.2 1252.7,882.2 1262.2,1096.2 1271.6,751.6 1281.1,971.3 1290.6,1090.8 1300.0,1146.8 1309.5,775.3 1318.9,856.9 1328.4,1005.5 1337.8,934.8 1347.3,884.2 1356.7,993.0 1366.2,1044.3 1375.7,1003.7 1385.1,521.7 1394.6,997.3 1404.0,1125.8 1413.5,930.2 1422.9,1176.4 1432.4,1074.1 1441.8,885.0 1451.3,974.4 1460.7,974.2" stroke="rgba(215,125,105,0.55)" stroke-width="1.6"/>
<polyline points="676.0,1041.5 685.4,1079.0 694.9,1010.9 704.3,1108.6 713.8,1190.7 723.3,998.1 732.7,934.5 742.2,982.7 751.6,1053.0 761.1,1011.4 770.5,1220.2 780.0,1080.8 789.4,944.0 798.9,1005.3 808.4,1132.9 817.8,969.8 827.3,1058.7 836.7,980.3 846.2,1188.2 855.6,1098.0 865.1,1015.0 874.5,1016.7 884.0,994.3 893.4,1044.1 902.9,1062.9 912.4,1000.5 921.8,965.6 931.3,1196.1 940.7,1074.1 950.2,1260.2 959.6,1026.4 969.1,951.0 978.5,1175.3 988.0,992.5 997.5,1215.7 1006.9,806.8 1016.4,1091.8 1025.8,1065.9 1035.3,1100.3 1044.7,1090.0 1054.2,1072.1 1063.6,1064.5 1073.1,1224.3 1082.5,1178.9 1092.0,1080.5 1101.5,989.0 1110.9,947.0 1120.4,784.5 1129.8,1024.9 1139.3,1114.3 1148.7,1018.1 1158.2,973.7 1167.6,1020.9 1177.1,1140.7 1186.5,1042.9 1196.0,1036.5 1205.5,1175.0 1214.9,1154.3 1224.4,925.9 1233.8,1257.3 1243.3,1015.6 1252.7,1056.8 1262.2,908.2 1271.6,975.9 1281.1,1117.0 1290.6,918.4 1300.0,1085.6 1309.5,853.8 1318.9,882.7 1328.4,1035.7 1337.8,959.3 1347.3,1010.5 1356.7,1118.0 1366.2,932.8 1375.7,988.3 1385.1,950.7 1394.6,931.1 1404.0,900.6 1413.5,933.3 1422.9,1032.6 1432.4,1015.4 1441.8,986.6 1451.3,1034.6 1460.7,1045.9" stroke="rgba(150,190,235,0.45)" stroke-width="1.4"/>
<polyline points="676.0,1159.1 685.4,905.1 694.9,1027.1 704.3,1020.6 713.8,1037.9 723.3,1106.1 732.7,1129.0 742.2,977.0 751.6,1090.2 761.1,911.6 770.5,1033.8 780.0,1042.7 789.4,1072.9 798.9,1057.7 808.4,1046.8 817.8,914.8 827.3,842.4 836.7,1167.1 846.2,907.8 855.6,985.4 865.1,1140.3 874.5,1112.2 884.0,1093.9 893.4,1293.4 902.9,988.8 912.4,1050.7 921.8,1055.1 931.3,1038.1 940.7,1022.9 950.2,840.1 959.6,1028.3 969.1,970.2 978.5,1096.7 988.0,797.7 997.5,1074.9 1006.9,1057.7 1016.4,1134.5 1025.8,1125.3 1035.3,1001.2 1044.7,1024.2 1054.2,1000.1 1063.6,1109.0 1073.1,1012.1 1082.5,1299.1 1092.0,1460.2 1101.5,693.7 1110.9,1014.7 1120.4,935.4 1129.8,1080.8 1139.3,952.8 1148.7,1081.8 1158.2,988.6 1167.6,1077.7 1177.1,1009.1 1186.5,1055.7 1196.0,1101.4 1205.5,1096.9 1214.9,1067.5 1224.4,974.0 1233.8,790.9 1243.3,1092.0 1252.7,1241.3 1262.2,1098.9 1271.6,1193.7 1281.1,1088.5 1290.6,1029.7 1300.0,1128.6 1309.5,1099.8 1318.9,1220.9 1328.4,1013.8 1337.8,1105.6 1347.3,933.2 1356.7,936.0 1366.2,1116.8 1375.7,1065.4 1385.1,1022.8 1394.6,960.3 1404.0,1197.4 1413.5,1033.3 1422.9,861.7 1432.4,846.4 1441.8,1005.7 1451.3,1024.8 1460.7,1145.9" stroke="rgba(150,190,235,0.45)" stroke-width="1.4"/>
<polyline points="676.0,1035.2 685.4,833.2 694.9,973.9 704.3,1129.7 713.8,1128.6 723.3,1176.5 732.7,947.6 742.2,878.0 751.6,1149.7 761.1,1024.3 770.5,963.2 780.0,862.6 789.4,1294.1 798.9,1035.4 808.4,990.6 817.8,1199.1 827.3,993.4 836.7,1028.5 846.2,981.8 855.6,1105.6 865.1,1007.7 874.5,1107.0 884.0,990.1 893.4,1028.9 902.9,1082.1 912.4,1187.5 921.8,896.3 931.3,943.2 940.7,962.8 950.2,1108.8 959.6,1076.2 969.1,908.4 978.5,972.6 988.0,1125.7 997.5,1033.5 1006.9,1023.9 1016.4,1057.5 1025.8,1132.8 1035.3,924.2 1044.7,982.2 1054.2,1054.8 1063.6,1194.6 1073.1,1093.0 1082.5,1033.3 1092.0,954.6 1101.5,1069.3 1110.9,932.2 1120.4,1016.8 1129.8,1105.6 1139.3,1313.9 1148.7,1148.2 1158.2,1179.9 1167.6,1042.7 1177.1,798.4 1186.5,902.5 1196.0,1026.6 1205.5,1142.8 1214.9,816.0 1224.4,995.0 1233.8,940.9 1243.3,1049.0 1252.7,1159.5 1262.2,964.0 1271.6,986.5 1281.1,879.0 1290.6,921.2 1300.0,941.1 1309.5,906.2 1318.9,1046.3 1328.4,1061.9 1337.8,1021.1 1347.3,1142.5 1356.7,1029.3 1366.2,1047.7 1375.7,953.7 1385.1,1014.3 1394.6,1206.8 1404.0,1008.4 1413.5,885.4 1422.9,1197.5 1432.4,1087.1 1441.8,1007.3 1451.3,1143.6 1460.7,1063.8" stroke="rgba(200,100,80,0.6)" stroke-width="1.6"/>
<polyline points="676.0,1071.8 685.4,1123.0 694.9,1122.6 704.3,1159.4 713.8,1074.4 723.3,1136.8 732.7,1118.0 742.2,967.2 751.6,1087.8 761.1,973.5 770.5,1050.2 780.0,997.4 789.4,1135.3 798.9,1059.7 808.4,840.4 817.8,999.2 827.3,1344.6 836.7,1050.9 846.2,995.7 855.6,1189.5 865.1,1157.4 874.5,1032.5 884.0,997.8 893.4,1111.6 902.9,1088.6 912.4,1106.1 921.8,1088.1 931.3,1191.2 940.7,1214.6 950.2,1076.5 959.6,1245.2 969.1,1167.5 978.5,1134.8 988.0,1174.6 997.5,1045.9 1006.9,1112.3 1016.4,1074.8 1025.8,1169.4 1035.3,1141.9 1044.7,1020.6 1054.2,1033.5 1063.6,1203.4 1073.1,1061.9 1082.5,1048.3 1092.0,1050.5 1101.5,923.9 1110.9,1105.3 1120.4,1026.9 1129.8,1026.4 1139.3,1087.5 1148.7,1182.2 1158.2,1281.7 1167.6,1039.5 1177.1,1057.9 1186.5,1060.1 1196.0,1060.1 1205.5,1529.3 1214.9,1035.7 1224.4,1245.6 1233.8,1064.2 1243.3,1213.9 1252.7,1097.0 1262.2,997.4 1271.6,1087.2 1281.1,1109.4 1290.6,1014.4 1300.0,1087.5 1309.5,1308.7 1318.9,1110.6 1328.4,925.6 1337.8,1000.0 1347.3,1015.8 1356.7,1180.0 1366.2,1003.2 1375.7,1190.0 1385.1,1015.0 1394.6,1171.5 1404.0,884.8 1413.5,1228.9 1422.9,948.6 1432.4,985.3 1441.8,1237.4 1451.3,1080.6 1460.7,927.9" stroke="rgba(150,190,235,0.45)" stroke-width="1.4"/>
<polyline points="676.0,1063.3 685.4,946.3 694.9,1041.0 704.3,1170.5 713.8,1095.4 723.3,1118.4 732.7,1014.2 742.2,1069.7 751.6,997.9 761.1,1251.8 770.5,925.2 780.0,1072.5 789.4,1002.5 798.9,1076.0 808.4,1100.4 817.8,1020.6 827.3,988.5 836.7,1081.4 846.2,1076.0 855.6,999.7 865.1,1186.5 874.5,1213.9 884.0,1024.3 893.4,1127.2 902.9,1254.3 912.4,1141.2 921.8,1105.5 931.3,1320.2 940.7,1209.4 950.2,1053.6 959.6,977.5 969.1,1080.0 978.5,962.5 988.0,1021.6 997.5,992.1 1006.9,996.3 1016.4,1006.6 1025.8,962.5 1035.3,1075.0 1044.7,1136.6 1054.2,1022.7 1063.6,1031.1 1073.1,955.9 1082.5,1183.3 1092.0,1119.4 1101.5,1137.1 1110.9,1228.2 1120.4,1039.8 1129.8,1004.2 1139.3,1125.7 1148.7,928.1 1158.2,977.3 1167.6,913.2 1177.1,1013.7 1186.5,964.6 1196.0,1184.2 1205.5,994.0 1214.9,1010.4 1224.4,1227.7 1233.8,1016.5 1243.3,1072.3 1252.7,977.6 1262.2,1090.9 1271.6,1047.6 1281.1,1015.3 1290.6,1134.5 1300.0,992.1 1309.5,1055.2 1318.9,1000.8 1328.4,1097.0 1337.8,947.9 1347.3,989.9 1356.7,1061.0 1366.2,986.9 1375.7,931.3 1385.1,884.2 1394.6,1202.0 1404.0,963.5 1413.5,1000.0 1422.9,1050.1 1432.4,1142.9 1441.8,929.3 1451.3,1168.3 1460.7,989.4" stroke="rgba(150,190,235,0.45)" stroke-width="1.4"/>
<polyline points="676.0,1053.9 685.4,851.9 694.9,1164.7 704.3,1079.5 713.8,1075.6 723.3,956.9 732.7,1156.5 742.2,1003.3 751.6,1109.5 761.1,1061.0 770.5,1148.7 780.0,977.8 789.4,1073.3 798.9,1082.9 808.4,925.7 817.8,991.4 827.3,812.5 836.7,983.7 846.2,1012.9 855.6,1008.7 865.1,775.4 874.5,908.1 884.0,1045.9 893.4,989.1 902.9,912.8 912.4,957.5 921.8,1066.1 931.3,1071.2 940.7,975.5 950.2,894.1 959.6,937.8 969.1,946.8 978.5,1008.8 988.0,1258.6 997.5,1027.5 1006.9,1031.4 1016.4,963.3 1025.8,854.8 1035.3,942.4 1044.7,1187.0 1054.2,1006.7 1063.6,1031.4 1073.1,944.1 1082.5,1012.8 1092.0,1202.3 1101.5,1098.5 1110.9,1038.0 1120.4,1215.2 1129.8,1017.0 1139.3,1033.3 1148.7,909.4 1158.2,1015.2 1167.6,1066.9 1177.1,1015.3 1186.5,1001.2 1196.0,916.0 1205.5,1099.4 1214.9,947.0 1224.4,756.0 1233.8,933.1 1243.3,996.4 1252.7,784.2 1262.2,1116.0 1271.6,1079.4 1281.1,1042.7 1290.6,492.2 1300.0,1043.8 1309.5,927.1 1318.9,1031.7 1328.4,880.0 1337.8,953.7 1347.3,1165.1 1356.7,997.0 1366.2,1110.9 1375.7,1006.9 1385.1,992.9 1394.6,792.6 1404.0,1015.5 1413.5,1157.4 1422.9,927.2 1432.4,1110.3 1441.8,826.9 1451.3,926.3 1460.7,848.7" stroke="rgba(165,60,50,0.6)" stroke-width="1.6"/>
<polyline points="676.0,954.6 685.4,1040.1 694.9,1018.4 704.3,973.1 713.8,1096.5 723.3,1033.2 732.7,1097.3 742.2,1122.6 751.6,1000.9 761.1,1141.0 770.5,1051.2 780.0,1137.6 789.4,1065.8 798.9,1110.3 808.4,961.2 817.8,1050.4 827.3,1050.4 836.7,912.0 846.2,1351.3 855.6,1170.0 865.1,1335.7 874.5,1057.7 884.0,1058.2 893.4,1000.2 902.9,1033.1 912.4,1144.8 921.8,902.2 931.3,1029.5 940.7,1082.1 950.2,1169.7 959.6,967.0 969.1,1105.2 978.5,1100.8 988.0,1037.1 997.5,1035.9 1006.9,1138.1 1016.4,944.4 1025.8,1156.2 1035.3,1167.7 1044.7,1026.9 1054.2,1042.6 1063.6,1047.4 1073.1,1095.0 1082.5,1049.4 1092.0,971.6 1101.5,1220.4 1110.9,987.6 1120.4,1155.1 1129.8,1074.8 1139.3,987.2 1148.7,1049.1 1158.2,809.6 1167.6,1193.1 1177.1,1126.4 1186.5,1042.3 1196.0,930.5 1205.5,1065.0 1214.9,1195.1 1224.4,948.4 1233.8,1142.5 1243.3,1068.5 1252.7,970.6 1262.2,1116.0 1271.6,1093.6 1281.1,1687.3 1290.6,1067.7 1300.0,1021.6 1309.5,1143.0 1318.9,1058.3 1328.4,1157.3 1337.8,1204.5 1347.3,891.0 1356.7,1005.3 1366.2,964.3 1375.7,1143.3 1385.1,1047.2 1394.6,1065.0 1404.0,1188.6 1413.5,995.4 1422.9,1116.7 1432.4,1063.5 1441.8,1197.2 1451.3,954.9 1460.7,975.1" stroke="rgba(150,190,235,0.45)" stroke-width="1.4"/>
<polyline points="676.0,932.9 685.4,959.4 694.9,893.8 704.3,1065.4 713.8,1040.5 723.3,966.4 732.7,1020.0 742.2,1046.1 751.6,1068.4 761.1,1088.5 770.5,1123.7 780.0,1122.7 789.4,1020.8 798.9,932.0 808.4,1199.8 817.8,1050.9 827.3,909.4 836.7,1573.1 846.2,1259.4 855.6,1140.5 865.1,985.5 874.5,949.2 884.0,1047.0 893.4,1066.0 902.9,1047.3 912.4,1155.8 921.8,947.8 931.3,1157.6 940.7,1074.2 950.2,685.8 959.6,955.0 969.1,1050.7 978.5,1050.4 988.0,1110.1 997.5,1099.8 1006.9,1072.7 1016.4,930.8 1025.8,1091.9 1035.3,997.9 1044.7,1009.4 1054.2,1011.2 1063.6,1065.8 1073.1,981.5 1082.5,1031.4 1092.0,1036.5 1101.5,1092.6 1110.9,1262.6 1120.4,979.9 1129.8,977.2 1139.3,1093.9 1148.7,1060.4 1158.2,1017.2 1167.6,1140.4 1177.1,979.5 1186.5,978.7 1196.0,966.1 1205.5,959.6 1214.9,1232.3 1224.4,993.8 1233.8,1083.4 1243.3,941.5 1252.7,1244.2 1262.2,966.7 1271.6,1045.8 1281.1,792.5 1290.6,1041.9 1300.0,1141.9 1309.5,951.3 1318.9,1182.1 1328.4,867.3 1337.8,946.1 1347.3,918.4 1356.7,942.6 1366.2,998.3 1375.7,1166.1 1385.1,1092.8 1394.6,983.0 1404.0,1051.7 1413.5,999.1 1422.9,1099.6 1432.4,1109.8 1441.8,1004.4 1451.3,965.4 1460.7,1029.4" stroke="rgba(150,190,235,0.45)" stroke-width="1.4"/>
<polyline points="676.0,1065.5 685.4,1204.4 694.9,940.3 704.3,944.3 713.8,871.1 723.3,1073.3 732.7,1040.6 742.2,1131.4 751.6,947.6 761.1,913.6 770.5,861.2 780.0,1014.3 789.4,1014.4 798.9,987.7 808.4,883.6 817.8,1115.5 827.3,927.4 836.7,1103.9 846.2,1157.2 855.6,1003.3 865.1,932.6 874.5,1140.5 884.0,944.8 893.4,972.2 902.9,990.0 912.4,910.8 921.8,1098.0 931.3,887.9 940.7,1066.7 950.2,981.7 959.6,1187.1 969.1,943.1 978.5,638.2 988.0,1086.2 997.5,1133.4 1006.9,1010.0 1016.4,910.4 1025.8,1008.5 1035.3,1049.9 1044.7,1105.1 1054.2,1133.6 1063.6,1059.9 1073.1,1189.9 1082.5,1064.3 1092.0,928.8 1101.5,1031.5 1110.9,1040.9 1120.4,1086.1 1129.8,961.4 1139.3,968.3 1148.7,907.7 1158.2,1095.1 1167.6,1137.3 1177.1,1085.4 1186.5,1148.9 1196.0,1028.2 1205.5,1066.9 1214.9,1110.5 1224.4,1027.5 1233.8,933.1 1243.3,958.3 1252.7,1085.8 1262.2,1017.8 1271.6,992.9 1281.1,962.0 1290.6,1055.7 1300.0,1151.6 1309.5,983.7 1318.9,1118.7 1328.4,1057.1 1337.8,1046.5 1347.3,937.1 1356.7,1066.5 1366.2,1166.5 1375.7,1039.7 1385.1,1073.4 1394.6,939.3 1404.0,1064.0 1413.5,974.0 1422.9,990.5 1432.4,1204.6 1441.8,1183.8 1451.3,1336.8 1460.7,988.5" stroke="rgba(150,190,235,0.45)" stroke-width="1.4"/>
<polyline points="676.0,841.9 685.4,1349.2 694.9,1082.3 704.3,1035.3 713.8,1027.8 723.3,1175.3 732.7,1233.7 742.2,1111.7 751.6,1073.7 761.1,1132.2 770.5,1154.0 780.0,1147.6 789.4,1091.8 798.9,1063.7 808.4,991.2 817.8,1107.2 827.3,1019.4 836.7,1063.5 846.2,1189.3 855.6,1086.8 865.1,1052.1 874.5,981.9 884.0,1215.6 893.4,988.8 902.9,1096.3 912.4,1030.7 921.8,988.2 931.3,1205.0 940.7,1130.4 950.2,1059.5 959.6,983.4 969.1,1102.9 978.5,1191.2 988.0,1117.8 997.5,1012.5 1006.9,944.1 1016.4,1097.9 1025.8,1079.1 1035.3,1064.1 1044.7,1059.3 1054.2,1141.8 1063.6,1090.1 1073.1,1025.4 1082.5,1035.0 1092.0,1042.1 1101.5,1146.3 1110.9,1120.4 1120.4,1115.9 1129.8,950.4 1139.3,914.7 1148.7,1011.9 1158.2,901.8 1167.6,1071.5 1177.1,1070.7 1186.5,1172.7 1196.0,1019.9 1205.5,1086.4 1214.9,1031.2 1224.4,996.3 1233.8,1063.7 1243.3,1152.6 1252.7,1042.9 1262.2,1045.3 1271.6,1034.7 1281.1,977.7 1290.6,1058.5 1300.0,1063.5 1309.5,693.5 1318.9,941.4 1328.4,1044.3 1337.8,1129.2 1347.3,850.9 1356.7,1000.1 1366.2,959.4 1375.7,822.6 1385.1,1057.1 1394.6,1018.1 1404.0,1067.2 1413.5,1023.5 1422.9,1068.9 1432.4,1137.8 1441.8,940.1 1451.3,1017.5 1460.7,916.3" stroke="rgba(150,190,235,0.45)" stroke-width="1.4"/>
</g>
<line x1="673.6" y1="1065.8" x2="1462.5" y2="1037.9" stroke="#3a8ad4" stroke-width="7.5"/>
<line x1="673.6" y1="1059.5" x2="1462.5" y2="1011.5" stroke="#9b1b24" stroke-width="8"/>
<line x1="147" y1="649.6" x2="147" y2="1322" stroke="#474747" stroke-width="2"/>
<line x1="136.5" y1="1313" x2="1462.5" y2="1313" stroke="#474747" stroke-width="2"/>
<line x1="231.6" y1="1313" x2="231.6" y2="1322" stroke="#474747" stroke-width="1.8"/>
<line x1="326.1" y1="1313" x2="326.1" y2="1322" stroke="#474747" stroke-width="1.8"/>
<line x1="420.7" y1="1313" x2="420.7" y2="1322" stroke="#474747" stroke-width="1.8"/>
<line x1="515.2" y1="1313" x2="515.2" y2="1322" stroke="#474747" stroke-width="1.8"/>
<line x1="609.8" y1="1313" x2="609.8" y2="1322" stroke="#474747" stroke-width="1.8"/>
<line x1="704.3" y1="1313" x2="704.3" y2="1322" stroke="#474747" stroke-width="1.8"/>
<line x1="798.9" y1="1313" x2="798.9" y2="1322" stroke="#474747" stroke-width="1.8"/>
<line x1="893.4" y1="1313" x2="893.4" y2="1322" stroke="#474747" stroke-width="1.8"/>
<line x1="988.0" y1="1313" x2="988.0" y2="1322" stroke="#474747" stroke-width="1.8"/>
<line x1="1082.5" y1="1313" x2="1082.5" y2="1322" stroke="#474747" stroke-width="1.8"/>
<line x1="1177.1" y1="1313" x2="1177.1" y2="1322" stroke="#474747" stroke-width="1.8"/>
<line x1="1271.6" y1="1313" x2="1271.6" y2="1322" stroke="#474747" stroke-width="1.8"/>
<line x1="1366.2" y1="1313" x2="1366.2" y2="1322" stroke="#474747" stroke-width="1.8"/>
<line x1="1460.7" y1="1313" x2="1460.7" y2="1322" stroke="#474747" stroke-width="1.8"/>
<text x="134.0" y="1343.8" font-size="19.80" font-weight="normal" fill="#4a4a4a" text-anchor="start" textLength="36.0" lengthAdjust="spacingAndGlyphs">1961</text>
<text x="232.6" y="1343.8" font-size="19.80" font-weight="normal" fill="#4a4a4a" text-anchor="middle" textLength="40.0" lengthAdjust="spacingAndGlyphs">1970</text>
<text x="327.1" y="1343.8" font-size="19.80" font-weight="normal" fill="#4a4a4a" text-anchor="middle" textLength="40.0" lengthAdjust="spacingAndGlyphs">1980</text>
<text x="421.7" y="1343.8" font-size="19.80" font-weight="normal" fill="#4a4a4a" text-anchor="middle" textLength="40.0" lengthAdjust="spacingAndGlyphs">1990</text>
<text x="516.2" y="1343.8" font-size="19.80" font-weight="normal" fill="#4a4a4a" text-anchor="middle" textLength="40.0" lengthAdjust="spacingAndGlyphs">2000</text>
<text x="610.8" y="1343.8" font-size="19.80" font-weight="normal" fill="#4a4a4a" text-anchor="middle" textLength="40.0" lengthAdjust="spacingAndGlyphs">2010</text>
<text x="705.3" y="1343.8" font-size="19.80" font-weight="normal" fill="#4a4a4a" text-anchor="middle" textLength="40.0" lengthAdjust="spacingAndGlyphs">2020</text>
<text x="799.9" y="1343.8" font-size="19.80" font-weight="normal" fill="#4a4a4a" text-anchor="middle" textLength="40.0" lengthAdjust="spacingAndGlyphs">2030</text>
<text x="894.4" y="1343.8" font-size="19.80" font-weight="normal" fill="#4a4a4a" text-anchor="middle" textLength="40.0" lengthAdjust="spacingAndGlyphs">2040</text>
<text x="989.0" y="1343.8" font-size="19.80" font-weight="normal" fill="#4a4a4a" text-anchor="middle" textLength="40.0" lengthAdjust="spacingAndGlyphs">2050</text>
<text x="1083.5" y="1343.8" font-size="19.80" font-weight="normal" fill="#4a4a4a" text-anchor="middle" textLength="40.0" lengthAdjust="spacingAndGlyphs">2060</text>
<text x="1178.1" y="1343.8" font-size="19.80" font-weight="normal" fill="#4a4a4a" text-anchor="middle" textLength="40.0" lengthAdjust="spacingAndGlyphs">2070</text>
<text x="1272.6" y="1343.8" font-size="19.80" font-weight="normal" fill="#4a4a4a" text-anchor="middle" textLength="40.0" lengthAdjust="spacingAndGlyphs">2080</text>
<text x="1367.2" y="1343.8" font-size="19.80" font-weight="normal" fill="#4a4a4a" text-anchor="middle" textLength="40.0" lengthAdjust="spacingAndGlyphs">2090</text>
<text x="1461.7" y="1343.8" font-size="19.80" font-weight="normal" fill="#4a4a4a" text-anchor="middle" textLength="40.0" lengthAdjust="spacingAndGlyphs">2100</text>
<text x="81.5" y="671.5" font-size="24.00" font-weight="normal" fill="#4a4a4a" text-anchor="start" textLength="53.0" lengthAdjust="spacingAndGlyphs">[mm]</text>
<polygon points="408.3,709.5 434.3,694.9 609.7,694.9 609.7,724.1 434.3,724.1" fill="#8c8c8c"/>
<text x="437.5" y="716.9" font-size="21.80" font-weight="bold" fill="#fff" text-anchor="start" textLength="161.0" lengthAdjust="spacingAndGlyphs">BEOBACHTUNG</text>
<polygon points="673.6,694.7 968.5,694.7 992.8,709.5 968.5,724.2 673.6,724.2" fill="#8c8c8c"/>
<text x="680.4" y="716.9" font-size="21.80" font-weight="bold" fill="#fff" text-anchor="start" textLength="281.0" lengthAdjust="spacingAndGlyphs">SIMULIERTE ENTWICKLUNG</text>
<defs><linearGradient id="fadeup" x1="0" y1="0" x2="0" y2="1"><stop offset="0" stop-color="#d8d8d8" stop-opacity="0"/><stop offset="1" stop-color="#d8d8d8" stop-opacity="1"/></linearGradient><linearGradient id="fadedn" x1="0" y1="0" x2="0" y2="1"><stop offset="0" stop-color="#d8d8d8" stop-opacity="1"/><stop offset="1" stop-color="#d8d8d8" stop-opacity="0"/></linearGradient></defs>
<text x="1473.0" y="671.5" font-size="24.00" font-weight="normal" fill="#8a8a8a" text-anchor="start" textLength="52.0" lengthAdjust="spacingAndGlyphs">[mm]</text>
<text x="1873.0" y="671.5" font-size="24.00" font-weight="normal" fill="#4a4a4a" text-anchor="start" textLength="37.0" lengthAdjust="spacingAndGlyphs">[%]</text>
<line x1="1696.4" y1="650" x2="1696.4" y2="1320.7" stroke="#8f8f8f" stroke-width="2" stroke-dasharray="50 34" stroke-dashoffset="25"/>
<rect x="1531.8" y="694.3" width="158.9" height="29.7" fill="#8c8c8c"/>
<rect x="1701.4" y="694.3" width="158.9" height="29.7" fill="#8c8c8c"/>
<text x="1541" y="716.5" font-size="20.5" fill="#fff" textLength="142" lengthAdjust="spacingAndGlyphs"><tspan font-weight="bold">NAHE</tspan> ZUKUNFT</text>
<text x="1707" y="716.5" font-size="20.5" fill="#fff" textLength="146" lengthAdjust="spacingAndGlyphs"><tspan font-weight="bold">FERNE</tspan> ZUKUNFT</text>
<rect x="1560.6" y="1009.2" width="29.9" height="15.9" fill="url(#fadeup)"/>
<rect x="1560.6" y="1087.5" width="29.9" height="27.5" fill="url(#fadedn)"/>
<rect x="1560.6" y="1025.1" width="29.9" height="62.4" fill="#c7d8f0"/>
<rect x="1635.2" y="982.0" width="30.7" height="11.7" fill="url(#fadeup)"/>
<rect x="1635.2" y="1074.1" width="30.7" height="30.4" fill="url(#fadedn)"/>
<rect x="1635.2" y="993.7" width="30.7" height="80.4" fill="#e6b0a6"/>
<rect x="1726.9" y="970.2" width="30.4" height="24.8" fill="url(#fadeup)"/>
<rect x="1726.9" y="1086.2" width="30.4" height="85.8" fill="url(#fadedn)"/>
<rect x="1726.9" y="995.0" width="30.4" height="91.2" fill="#c7d8f0"/>
<rect x="1803.5" y="922.0" width="29.8" height="24.6" fill="url(#fadeup)"/>
<rect x="1803.5" y="1090.3" width="29.8" height="73.5" fill="url(#fadedn)"/>
<rect x="1803.5" y="946.6" width="29.8" height="143.7" fill="#e6b0a6"/>
<line x1="1531.8" y1="1081.6" x2="1860" y2="1081.6" stroke="#8a8a8a" stroke-width="3" stroke-dasharray="46 19.5" stroke-dashoffset="22.3"/>
<line x1="1531.8" y1="1055.3" x2="1860" y2="1055.3" stroke="#8f8f8f" stroke-width="1.8" stroke-dasharray="6.3 3.7"/>
<line x1="1531.8" y1="1107.9" x2="1860" y2="1107.9" stroke="#8f8f8f" stroke-width="1.8" stroke-dasharray="6.3 3.7"/>
<rect x="1550" y="1056.8" width="40.7" height="5.8" fill="#2a8fd8"/>
<rect x="1624.7" y="1036.2" width="49.5" height="6" fill="#a3131f"/>
<rect x="1716.7" y="1038.9" width="49.1" height="5.6" fill="#2a8fd8"/>
<rect x="1793.9" y="1024" width="49.6" height="5.6" fill="#a3131f"/>
<line x1="1531.8" y1="649.6" x2="1860.3" y2="649.6" stroke="#9a9a9a" stroke-width="1.6"/>
<line x1="1531.8" y1="649.6" x2="1531.8" y2="1313.0" stroke="#9a9a9a" stroke-width="1.8"/>
<line x1="1860.3" y1="649.6" x2="1860.3" y2="1313.0" stroke="#6a6a6a" stroke-width="1.8"/>
<line x1="1531.8" y1="1313.0" x2="1860.3" y2="1313.0" stroke="#474747" stroke-width="2"/>
<line x1="1860" y1="788.6" x2="1870.5" y2="788.6" stroke="#474747" stroke-width="1.8"/>
<line x1="1860" y1="861.8" x2="1870.5" y2="861.8" stroke="#474747" stroke-width="1.8"/>
<line x1="1860" y1="935.1" x2="1870.5" y2="935.1" stroke="#474747" stroke-width="1.8"/>
<line x1="1860" y1="1008.3" x2="1870.5" y2="1008.3" stroke="#474747" stroke-width="1.8"/>
<line x1="1860" y1="1081.6" x2="1870.5" y2="1081.6" stroke="#474747" stroke-width="1.8"/>
<line x1="1860" y1="1154.8" x2="1870.5" y2="1154.8" stroke="#474747" stroke-width="1.8"/>
<line x1="1860" y1="1228.1" x2="1870.5" y2="1228.1" stroke="#474747" stroke-width="1.8"/>
<line x1="1860" y1="1301.3" x2="1870.5" y2="1301.3" stroke="#474747" stroke-width="1.8"/>
<text x="1878.0" y="794.0" font-size="19.80" font-weight="normal" fill="#4a4a4a" text-anchor="start" textLength="35.5" lengthAdjust="spacingAndGlyphs">+40</text>
<text x="1877.0" y="941.7" font-size="19.80" font-weight="normal" fill="#4a4a4a" text-anchor="start" textLength="36.0" lengthAdjust="spacingAndGlyphs">+20</text>
<text x="1876.0" y="1089.0" font-size="24.00" font-weight="bold" fill="#333" text-anchor="start" textLength="15.0" lengthAdjust="spacingAndGlyphs">0</text>
<text x="1876.0" y="1235.2" font-size="19.80" font-weight="normal" fill="#4a4a4a" text-anchor="start" textLength="28.0" lengthAdjust="spacingAndGlyphs">-20</text>
<text x="1524.5" y="1085.8" font-size="19.80" font-weight="bold" fill="#8a8a8a" text-anchor="end" textLength="48.5" lengthAdjust="spacingAndGlyphs">1.499</text>
<text x="1613.4" y="1343.5" font-size="19.80" font-weight="normal" fill="#4a4a4a" text-anchor="middle" textLength="84.0" lengthAdjust="spacingAndGlyphs">2021-2050</text>
<text x="1780.7" y="1343.5" font-size="19.80" font-weight="normal" fill="#4a4a4a" text-anchor="middle" textLength="84.0" lengthAdjust="spacingAndGlyphs">2071-2100</text>
<circle cx="192.1" cy="1013.5" r="19.2" fill="#ef5a26"/><text x="192.1" y="1023.2" font-size="27.00" font-weight="bold" fill="#fff" text-anchor="middle">1</text>
<circle cx="495.2" cy="1081.6" r="19.2" fill="#ef5a26"/><text x="495.2" y="1091.3" font-size="27.00" font-weight="bold" fill="#fff" text-anchor="middle">2</text>
<circle cx="642.5" cy="1043.1" r="19.2" fill="#ef5a26"/><text x="642.5" y="1052.8" font-size="27.00" font-weight="bold" fill="#fff" text-anchor="middle">3</text>
<circle cx="777.1" cy="968.8" r="19.2" fill="#ef5a26"/><text x="777.1" y="978.5" font-size="27.00" font-weight="bold" fill="#fff" text-anchor="middle">4</text>
<circle cx="1018.7" cy="1042.3" r="19.2" fill="#ef5a26"/><text x="1018.7" y="1052.0" font-size="27.00" font-weight="bold" fill="#fff" text-anchor="middle">5</text>
<circle cx="1314.0" cy="1080.0" r="19.2" fill="#ef5a26"/><text x="1314.0" y="1089.7" font-size="27.00" font-weight="bold" fill="#fff" text-anchor="middle">6</text>
<circle cx="1609.2" cy="1054.2" r="19.2" fill="#ef5a26"/><text x="1609.2" y="1063.9" font-size="27.00" font-weight="bold" fill="#fff" text-anchor="middle">7</text>
<circle cx="1697.9" cy="1078.3" r="19.2" fill="#ef5a26"/><text x="1697.9" y="1088.0" font-size="27.00" font-weight="bold" fill="#fff" text-anchor="middle">8</text>
<circle cx="1792.7" cy="927.8" r="19.2" fill="#ef5a26"/><text x="1792.7" y="937.5" font-size="27.00" font-weight="bold" fill="#fff" text-anchor="middle">9</text>
<rect x="96.0" y="1360.3" width="527.7" height="36.8" fill="#ef5a26"/>
<text x="196.0" y="1388.3" font-size="29.00" font-weight="bold" fill="#fff" text-anchor="start" textLength="328.4" lengthAdjust="spacingAndGlyphs">Gemessene Entwicklung</text>
<text x="155.0" y="1426.3" font-size="29.00" font-weight="normal" fill="#4a4a4a" text-anchor="start" textLength="408.6" lengthAdjust="spacingAndGlyphs">in den vergangenen Jahrzehnten</text>
<rect x="649.3" y="1360.3" width="814.7" height="36.8" fill="#ef5a26"/>
<text x="914.2" y="1388.3" font-size="29.00" font-weight="bold" fill="#fff" text-anchor="start" textLength="286.1" lengthAdjust="spacingAndGlyphs">Simulierte Änderung</text>
<text x="881.6" y="1426.3" font-size="29.00" font-weight="normal" fill="#4a4a4a" text-anchor="start" textLength="352.4" lengthAdjust="spacingAndGlyphs">für zwei Szenarien bis 2100</text>
<rect x="1485.9" y="1360.3" width="417.1" height="36.8" fill="#ef5a26"/>
<text x="1553.0" y="1388.3" font-size="29.00" font-weight="bold" fill="#fff" text-anchor="start" textLength="284.6" lengthAdjust="spacingAndGlyphs">Simulierte Änderung</text>
<text x="1542.8" y="1426.3" font-size="29.00" font-weight="normal" fill="#4a4a4a" text-anchor="start" textLength="305.2" lengthAdjust="spacingAndGlyphs">gegenüber 1971 – 2000</text>
<rect x="0" y="1547.7" width="2000" height="686.3" fill="#e8e8e8"/>
<circle cx="136.2" cy="1604.4" r="19.2" fill="#ef5a26"/><text x="136.2" y="1613.8" font-size="26.00" font-weight="bold" fill="#fff" text-anchor="middle">1</text>
<text x="183.7" y="1613.1" font-size="29.00" font-weight="normal" fill="#525252" text-anchor="start" textLength="760.0" lengthAdjust="spacingAndGlyphs">Gemessene Mittelwerte auf jährlicher Basis. Beobachtungs-</text>
<text x="183.7" y="1651.3" font-size="29.00" font-weight="normal" fill="#525252" text-anchor="start" textLength="750.7" lengthAdjust="spacingAndGlyphs">daten sind aus täglichen, lokalen Stationsmessungen auf ein</text>
<text x="183.7" y="1690.0" font-size="29.00" font-weight="normal" fill="#525252" text-anchor="start" textLength="705.9" lengthAdjust="spacingAndGlyphs">1x1 km Gitter interpolierte Werte der Temperatur, des</text>
<text x="183.7" y="1727.6" font-size="29.00" font-weight="normal" fill="#525252" text-anchor="start" textLength="426.3" lengthAdjust="spacingAndGlyphs">Niederschlags bzw. der Strahlung</text>
<circle cx="136.2" cy="1772.5" r="19.2" fill="#ef5a26"/><text x="136.2" y="1781.9" font-size="26.00" font-weight="bold" fill="#fff" text-anchor="middle">2</text>
<text x="183.7" y="1781.8" font-size="29.00" font-weight="normal" fill="#525252" text-anchor="start" textLength="671.1" lengthAdjust="spacingAndGlyphs">30-jähriges Mittel der jährlichen Beobachtungswerte</text>
<text x="183.7" y="1819.3" font-size="29.00" font-weight="normal" fill="#525252" text-anchor="start" textLength="724.8" lengthAdjust="spacingAndGlyphs">von 1971 bis 2000. Die natürliche Schwankungsbreite ist</text>
<text x="183.7" y="1857.5" font-size="29.00" font-weight="normal" fill="#525252" text-anchor="start" textLength="185.8" lengthAdjust="spacingAndGlyphs">grau hinterlegt</text>
<circle cx="136.2" cy="1903.0" r="19.2" fill="#ef5a26"/><text x="136.2" y="1912.4" font-size="26.00" font-weight="bold" fill="#fff" text-anchor="middle">3</text>
<text x="183.7" y="1912.2" font-size="29.00" font-weight="normal" fill="#525252" text-anchor="start" textLength="726.1" lengthAdjust="spacingAndGlyphs">Die räumliche und zeitliche Trennung der Beobachtungs-</text>
<text x="183.7" y="1949.1" font-size="29.00" font-weight="normal" fill="#525252" text-anchor="start" textLength="761.8" lengthAdjust="spacingAndGlyphs">und Modelldaten symbolisiert den Übergang von der realen</text>
<text x="183.7" y="1987.8" font-size="29.00" font-weight="normal" fill="#525252" text-anchor="start" textLength="745.8" lengthAdjust="spacingAndGlyphs">Welt zur Modellwelt. Flächenmäßig aufbereitete Beobach-</text>
<text x="183.7" y="2026.4" font-size="29.00" font-weight="normal" fill="#525252" text-anchor="start" textLength="747.7" lengthAdjust="spacingAndGlyphs">tungsdaten sind für Österreich bis 2010 verfügbar. Modell-</text>
<text x="183.7" y="2064.1" font-size="29.00" font-weight="normal" fill="#525252" text-anchor="start" textLength="731.0" lengthAdjust="spacingAndGlyphs">daten starten mit der Zukunft und sind ab dem Jahr 2017</text>
<text x="183.7" y="2102.3" font-size="29.00" font-weight="normal" fill="#525252" text-anchor="start" textLength="742.1" lengthAdjust="spacingAndGlyphs">dargestellt. Ein nahtloser Übergang von der realen Welt in</text>
<text x="183.7" y="2141.0" font-size="29.00" font-weight="normal" fill="#525252" text-anchor="start" textLength="668.2" lengthAdjust="spacingAndGlyphs">die Modellwelt kann daher nicht hergestellt werden.</text>
<circle cx="1009.4" cy="1604.5" r="19.2" fill="#ef5a26"/><text x="1009.4" y="1613.9" font-size="26.00" font-weight="bold" fill="#fff" text-anchor="middle">4</text>
<text x="1059.2" y="1613.1" font-size="29.00" font-weight="normal" fill="#525252" text-anchor="start" textLength="715.8" lengthAdjust="spacingAndGlyphs">Jährliche Simulation der 13 Einzelmodelle jeweils für die</text>
<text x="1059.2" y="1651.3" font-size="29.00" font-weight="normal" fill="#525252" text-anchor="start" textLength="389.4" lengthAdjust="spacingAndGlyphs">Szenarien RCP4.5 und RCP8.5</text>
<circle cx="1009.4" cy="1696.8" r="19.2" fill="#ef5a26"/><text x="1009.4" y="1706.2" font-size="26.00" font-weight="bold" fill="#fff" text-anchor="middle">5</text>
<text x="1059.2" y="1705.0" font-size="29.00" font-weight="normal" fill="#525252" text-anchor="start" textLength="692.4" lengthAdjust="spacingAndGlyphs">Mittlerer Trend aus den Modelldaten für die Szenarien</text>
<text x="1059.2" y="1742.4" font-size="29.00" font-weight="normal" fill="#525252" text-anchor="start" textLength="256.8" lengthAdjust="spacingAndGlyphs">RCP4.5 und RCP8.5</text>
<circle cx="1009.4" cy="1790.0" r="19.2" fill="#ef5a26"/><text x="1009.4" y="1799.4" font-size="26.00" font-weight="bold" fill="#fff" text-anchor="middle">6</text>
<text x="1059.2" y="1797.8" font-size="29.00" font-weight="normal" fill="#525252" text-anchor="start" textLength="625.6" lengthAdjust="spacingAndGlyphs">Referenzlinien zum beobachteten Mittelwert der</text>
<text x="1059.2" y="1834.8" font-size="29.00" font-weight="normal" fill="#525252" text-anchor="start" textLength="700.4" lengthAdjust="spacingAndGlyphs">Periode 1971-2000 mit natürlicher Schwankungsbreite</text>
<circle cx="1009.4" cy="1880.3" r="19.2" fill="#ef5a26"/><text x="1009.4" y="1889.7" font-size="26.00" font-weight="bold" fill="#fff" text-anchor="middle">7</text>
<text x="1059.2" y="1889.4" font-size="29.00" font-weight="normal" fill="#525252" text-anchor="start" textLength="669.6" lengthAdjust="spacingAndGlyphs">Median der Modelle: Die Hälfte aller Modelle zeigen</text>
<text x="1059.2" y="1927.1" font-size="29.00" font-weight="normal" fill="#525252" text-anchor="start" textLength="747.2" lengthAdjust="spacingAndGlyphs">Änderungen im 30-jährigen Klimamittel, die oberhalb bzw.</text>
<text x="1059.2" y="1965.8" font-size="29.00" font-weight="normal" fill="#525252" text-anchor="start" textLength="390.7" lengthAdjust="spacingAndGlyphs">unterhalb dieses Wertes liegen</text>
<circle cx="1009.4" cy="2011.8" r="19.2" fill="#ef5a26"/><text x="1009.4" y="2021.2" font-size="26.00" font-weight="bold" fill="#fff" text-anchor="middle">8</text>
<text x="1059.2" y="2018.7" font-size="29.00" font-weight="normal" fill="#525252" text-anchor="start" textLength="715.8" lengthAdjust="spacingAndGlyphs">Schwankungsbreite (10%-Perzentil, 90%-Perzentil) der</text>
<text x="1059.2" y="2056.9" font-size="29.00" font-weight="normal" fill="#525252" text-anchor="start" textLength="792.8" lengthAdjust="spacingAndGlyphs">Modelle. 80% der Modelle zeigen Änderungen im 30-jährigen</text>
<text x="1059.2" y="2095.6" font-size="29.00" font-weight="normal" fill="#525252" text-anchor="start" textLength="752.8" lengthAdjust="spacingAndGlyphs">Klimamittel, die innerhalb dieser Schwankungsbreite liegen</text>
<circle cx="1009.4" cy="2140.6" r="19.2" fill="#ef5a26"/><text x="1009.4" y="2150.0" font-size="26.00" font-weight="bold" fill="#fff" text-anchor="middle">9</text>
<text x="1059.2" y="2149.3" font-size="29.00" font-weight="normal" fill="#525252" text-anchor="start" textLength="727.2" lengthAdjust="spacingAndGlyphs">Schwankungsbreite aufgrund neuester wissenschaftlicher</text>
<text x="1059.2" y="2187.4" font-size="29.00" font-weight="normal" fill="#525252" text-anchor="start" textLength="163.3" lengthAdjust="spacingAndGlyphs">Erkenntnisse</text>
<rect x="0" y="2712.9" width="2000" height="116" fill="url(#ftrg)"/>
<text x="143.6" y="2780.5" font-size="29.00" font-weight="bold" fill="#ffffff" text-anchor="start" textLength="1123.0" lengthAdjust="spacingAndGlyphs" opacity="0.22">ÖKS15 Klimafactsheet &#160;|&#160; Klimaszenarien für das Bundesland Wien bis 2100</text>
</svg>
</body></html>
